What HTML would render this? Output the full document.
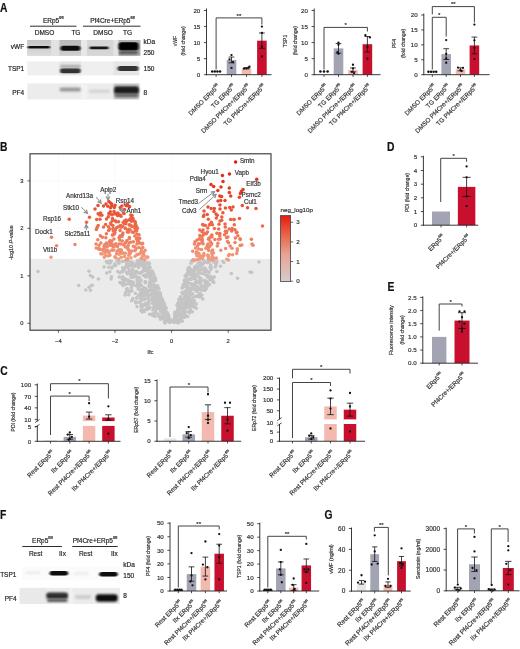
<!DOCTYPE html>
<html><head><meta charset="utf-8"><title>Figure</title>
<style>html,body{margin:0;padding:0;background:#fff;}svg{display:block;filter:blur(0.3px);}
text{font-family:"Liberation Sans", sans-serif;stroke:currentColor;stroke-width:0.18px;}</style></head>
<body><svg width="520" height="649" viewBox="0 0 520 649">
<rect width="520" height="649" fill="#fff"/>
<text transform="translate(-0.10 12.20) scale(0.86 1)" font-size="12" font-weight="bold" fill="#111" color="#111">A</text>
<text transform="translate(0.10 150.80) scale(0.86 1)" font-size="12" font-weight="bold" fill="#111" color="#111">B</text>
<text transform="translate(0.30 375.40) scale(0.86 1)" font-size="12" font-weight="bold" fill="#111" color="#111">C</text>
<text transform="translate(387.00 151.00) scale(0.86 1)" font-size="12" font-weight="bold" fill="#111" color="#111">D</text>
<text transform="translate(387.40 291.20) scale(0.86 1)" font-size="12" font-weight="bold" fill="#111" color="#111">E</text>
<text transform="translate(0.10 519.20) scale(0.86 1)" font-size="12" font-weight="bold" fill="#111" color="#111">F</text>
<text transform="translate(324.50 519.10) scale(0.86 1)" font-size="12" font-weight="bold" fill="#111" color="#111">G</text>
<defs><filter id="bl0" x="-20%" y="-50%" width="140%" height="200%"><feGaussianBlur stdDeviation="0.5"/></filter><filter id="bl1" x="-30%" y="-100%" width="160%" height="300%"><feGaussianBlur stdDeviation="0.8 0.6"/></filter><filter id="bl2" x="-30%" y="-100%" width="160%" height="300%"><feGaussianBlur stdDeviation="1.2 1.0"/></filter><linearGradient id="gv1" x1="0" y1="0" x2="0" y2="1"><stop offset="0" stop-color="#c4c4c4"/><stop offset="1" stop-color="#dcdcdc"/></linearGradient><linearGradient id="gv2" x1="0" y1="0" x2="0" y2="1"><stop offset="0" stop-color="#b8b8b8"/><stop offset="1" stop-color="#cfcfcf"/></linearGradient><linearGradient id="gv4" x1="0" y1="0" x2="0" y2="1"><stop offset="0" stop-color="#b0b0b0"/><stop offset="1" stop-color="#a8a8a8"/></linearGradient></defs>
<text x="53.20" y="22.60" font-size="6.5" text-anchor="middle" fill="#222" color="#222">ERp5<tspan font-size="3.4" dy="-3.2">fl/fl</tspan></text>
<line x1="30.00" y1="26.20" x2="76.50" y2="26.20" stroke="#222" stroke-width="0.95"/>
<text x="112.50" y="22.60" font-size="6.5" text-anchor="middle" fill="#222" color="#222">Pf4Cre+ERp5<tspan font-size="3.4" dy="-3.2">fl/fl</tspan></text>
<line x1="83.00" y1="26.20" x2="140.50" y2="26.20" stroke="#222" stroke-width="0.95"/>
<text x="44.50" y="35.40" font-size="6.5" text-anchor="middle" fill="#222" color="#222">DMSO</text>
<text x="75.90" y="35.40" font-size="6.5" text-anchor="middle" fill="#222" color="#222">TG</text>
<text x="103.10" y="35.40" font-size="6.5" text-anchor="middle" fill="#222" color="#222">DMSO</text>
<text x="127.50" y="35.40" font-size="6.5" text-anchor="middle" fill="#222" color="#222">TG</text>
<text x="24.20" y="49.25" font-size="6.5" text-anchor="end" fill="#222" color="#222">vWF</text>
<text x="24.20" y="71.35" font-size="6.5" text-anchor="end" fill="#222" color="#222">TSP1</text>
<text x="24.20" y="94.65" font-size="6.5" text-anchor="end" fill="#222" color="#222">PF4</text>
<text x="143.60" y="44.35" font-size="6.5" fill="#222" color="#222">kDa</text>
<text x="143.60" y="55.05" font-size="6.5" fill="#222" color="#222">250</text>
<text x="143.60" y="71.45" font-size="6.5" fill="#222" color="#222">150</text>
<text x="143.60" y="94.95" font-size="6.5" fill="#222" color="#222">8</text>
<rect x="27.30" y="40.00" width="113.00" height="15.70" fill="#d2d2d2"/>
<rect x="27.30" y="40.00" width="23.80" height="15.70" fill="url(#gv1)"/>
<rect x="51.10" y="40.00" width="8.50" height="15.70" fill="#e2e2e2"/>
<rect x="59.60" y="40.00" width="21.40" height="15.70" fill="url(#gv2)"/>
<rect x="81.00" y="40.00" width="6.30" height="15.70" fill="#e8e8e8"/>
<rect x="87.30" y="40.00" width="26.00" height="15.70" fill="#d6d6d6"/>
<rect x="113.30" y="40.00" width="5.20" height="15.70" fill="#e4e4e4"/>
<rect x="118.50" y="40.00" width="21.80" height="15.70" fill="url(#gv4)"/>
<rect x="27.80" y="45.90" width="22.20" height="2.60" rx="1.30" fill="#111" opacity="1" filter="url(#bl1)"/>
<rect x="60.50" y="45.80" width="19.90" height="5.00" rx="2.50" fill="#0a0a0a" opacity="1" filter="url(#bl1)"/>
<rect x="89.60" y="46.60" width="19.00" height="2.60" rx="1.30" fill="#151515" opacity="1" filter="url(#bl1)"/>
<rect x="118.50" y="42.30" width="20.00" height="8.20" rx="3.00" fill="#050505" opacity="1" filter="url(#bl1)"/>
<rect x="119.00" y="50.75" width="19.00" height="3.50" rx="1.75" fill="#555" opacity="1" filter="url(#bl2)"/>
<rect x="27.30" y="61.50" width="112.00" height="13.80" fill="#efefef"/>
<rect x="59.60" y="61.50" width="21.40" height="13.80" fill="#e4e4e4"/>
<rect x="113.50" y="61.50" width="25.80" height="13.80" fill="#e6e6e6"/>
<rect x="60.00" y="68.30" width="20.60" height="5.00" rx="2.50" fill="#333" opacity="1" filter="url(#bl1)"/>
<rect x="60.00" y="65.00" width="20.60" height="3.00" rx="1.50" fill="#aaa" opacity="1" filter="url(#bl2)"/>
<rect x="117.50" y="66.10" width="21.00" height="5.00" rx="2.50" fill="#333" opacity="1" filter="url(#bl1)"/>
<rect x="27.30" y="83.40" width="112.00" height="16.00" fill="#ececec"/>
<rect x="81.00" y="83.40" width="6.30" height="16.00" fill="#f2f2f2"/>
<rect x="113.50" y="83.40" width="25.80" height="16.00" fill="#d0d0d0"/>
<rect x="59.50" y="87.40" width="21.50" height="4.00" rx="2.00" fill="#999" opacity="1" filter="url(#bl2)"/>
<rect x="89.00" y="89.70" width="21.00" height="3.00" rx="1.50" fill="#d2d2d2" opacity="1" filter="url(#bl2)"/>
<rect x="114.00" y="86.30" width="25.00" height="8.00" rx="3.00" fill="#1e1e1e" opacity="1" filter="url(#bl2)"/>
<rect x="114.50" y="93.50" width="24.00" height="4.00" rx="2.00" fill="#666" opacity="1" filter="url(#bl2)"/>
<rect x="211.30" y="71.49" width="9.60" height="3.21" fill="none"/>
<rect x="226.70" y="59.93" width="9.60" height="14.77" fill="#a3a4b3"/>
<rect x="241.70" y="68.28" width="9.60" height="6.42" fill="#f3b8ae"/>
<rect x="257.10" y="40.67" width="9.60" height="34.03" fill="#c8102e"/>
<circle cx="212.20" cy="71.49" r="1.25" fill="#111"/>
<circle cx="214.80" cy="71.49" r="1.25" fill="#111"/>
<circle cx="217.40" cy="71.49" r="1.25" fill="#111"/>
<circle cx="220.00" cy="71.49" r="1.25" fill="#111"/>
<line x1="231.50" y1="57.05" x2="231.50" y2="62.82" stroke="#111" stroke-width="0.8"/>
<line x1="228.62" y1="57.05" x2="234.38" y2="57.05" stroke="#111" stroke-width="0.8"/>
<line x1="228.62" y1="62.82" x2="234.38" y2="62.82" stroke="#111" stroke-width="0.8"/>
<circle cx="231.50" cy="55.12" r="1.15" fill="#111"/>
<circle cx="229.50" cy="59.29" r="1.15" fill="#111"/>
<circle cx="233.00" cy="62.18" r="1.15" fill="#111"/>
<circle cx="231.50" cy="67.96" r="1.15" fill="#111"/>
<line x1="246.50" y1="67.64" x2="246.50" y2="68.92" stroke="#111" stroke-width="0.8"/>
<line x1="243.62" y1="67.64" x2="249.38" y2="67.64" stroke="#111" stroke-width="0.8"/>
<line x1="243.62" y1="68.92" x2="249.38" y2="68.92" stroke="#111" stroke-width="0.8"/>
<circle cx="244.00" cy="68.60" r="1.15" fill="#111"/>
<circle cx="246.50" cy="68.28" r="1.15" fill="#111"/>
<circle cx="248.50" cy="67.64" r="1.15" fill="#111"/>
<circle cx="249.50" cy="66.67" r="1.15" fill="#111"/>
<line x1="261.90" y1="32.97" x2="261.90" y2="48.38" stroke="#111" stroke-width="0.8"/>
<line x1="259.02" y1="32.97" x2="264.78" y2="32.97" stroke="#111" stroke-width="0.8"/>
<line x1="259.02" y1="48.38" x2="264.78" y2="48.38" stroke="#111" stroke-width="0.8"/>
<circle cx="261.90" cy="26.55" r="1.15" fill="#111"/>
<circle cx="261.90" cy="32.97" r="1.15" fill="#111"/>
<circle cx="261.90" cy="46.77" r="1.15" fill="#111"/>
<circle cx="261.90" cy="56.40" r="1.15" fill="#111"/>
<line x1="206.50" y1="8.50" x2="206.50" y2="75.15" stroke="#222" stroke-width="0.9"/>
<line x1="206.05" y1="74.70" x2="271.50" y2="74.70" stroke="#222" stroke-width="0.9"/>
<line x1="203.90" y1="74.70" x2="206.50" y2="74.70" stroke="#222" stroke-width="0.8"/>
<text x="200.30" y="76.93" font-size="6.2" text-anchor="end" fill="#333" color="#333">0</text>
<line x1="203.90" y1="58.65" x2="206.50" y2="58.65" stroke="#222" stroke-width="0.8"/>
<text x="200.30" y="60.88" font-size="6.2" text-anchor="end" fill="#333" color="#333">5</text>
<line x1="203.90" y1="42.60" x2="206.50" y2="42.60" stroke="#222" stroke-width="0.8"/>
<text x="200.30" y="44.83" font-size="6.2" text-anchor="end" fill="#333" color="#333">10</text>
<line x1="203.90" y1="26.55" x2="206.50" y2="26.55" stroke="#222" stroke-width="0.8"/>
<text x="200.30" y="28.78" font-size="6.2" text-anchor="end" fill="#333" color="#333">15</text>
<line x1="203.90" y1="10.50" x2="206.50" y2="10.50" stroke="#222" stroke-width="0.8"/>
<text x="200.30" y="12.73" font-size="6.2" text-anchor="end" fill="#333" color="#333">20</text>
<line x1="216.10" y1="74.70" x2="216.10" y2="76.90" stroke="#222" stroke-width="0.8"/>
<line x1="231.50" y1="74.70" x2="231.50" y2="76.90" stroke="#222" stroke-width="0.8"/>
<line x1="246.50" y1="74.70" x2="246.50" y2="76.90" stroke="#222" stroke-width="0.8"/>
<line x1="261.90" y1="74.70" x2="261.90" y2="76.90" stroke="#222" stroke-width="0.8"/>
<text x="177.00" y="41.00" font-size="5.0" text-anchor="middle" fill="#333" color="#333" transform="rotate(-90 177.00 41.00)">vWF</text>
<text x="185.40" y="41.00" font-size="5.0" text-anchor="middle" fill="#333" color="#333" transform="rotate(-90 185.40 41.00)">(fold change)</text>
<text x="220.10" y="86.70" font-size="6.35" text-anchor="end" fill="#333" color="#333" transform="rotate(-45 220.10 86.70)">DMSO ERp5<tspan font-size="3.4" dy="-3.2">fl/fl</tspan></text>
<text x="235.50" y="86.70" font-size="6.35" text-anchor="end" fill="#333" color="#333" transform="rotate(-45 235.50 86.70)">TG ERp5<tspan font-size="3.4" dy="-3.2">fl/fl</tspan></text>
<text x="250.50" y="86.70" font-size="6.35" text-anchor="end" fill="#333" color="#333" transform="rotate(-45 250.50 86.70)">DMSO Pf4Cre+/ERp5<tspan font-size="3.4" dy="-3.2">fl/fl</tspan></text>
<text x="265.90" y="86.70" font-size="6.35" text-anchor="end" fill="#333" color="#333" transform="rotate(-45 265.90 86.70)">TG Pf4Cre+/ERp5<tspan font-size="3.4" dy="-3.2">fl/fl</tspan></text>
<polyline points="216.10,69.50 216.10,17.90 261.90,17.90 261.90,24.50" fill="none" stroke="#3a3a3a" stroke-width="0.95"/>
<text x="239.00" y="17.60" font-size="6.2" text-anchor="middle" fill="#333" color="#333">**</text>
<rect x="319.20" y="71.49" width="9.60" height="3.21" fill="none"/>
<rect x="333.70" y="48.38" width="9.60" height="26.32" fill="#a3a4b3"/>
<rect x="348.20" y="69.89" width="9.60" height="4.81" fill="#f3b8ae"/>
<rect x="362.60" y="44.21" width="9.60" height="30.49" fill="#c8102e"/>
<circle cx="320.40" cy="71.49" r="1.3" fill="#111"/>
<circle cx="324.00" cy="71.49" r="1.3" fill="#111"/>
<circle cx="327.60" cy="71.49" r="1.3" fill="#111"/>
<line x1="338.50" y1="43.56" x2="338.50" y2="53.19" stroke="#111" stroke-width="0.8"/>
<line x1="335.62" y1="43.56" x2="341.38" y2="43.56" stroke="#111" stroke-width="0.8"/>
<line x1="335.62" y1="53.19" x2="341.38" y2="53.19" stroke="#111" stroke-width="0.8"/>
<circle cx="338.50" cy="42.60" r="1.15" fill="#111"/>
<circle cx="338.50" cy="44.85" r="1.15" fill="#111"/>
<circle cx="337.50" cy="52.23" r="1.15" fill="#111"/>
<circle cx="338.50" cy="53.84" r="1.15" fill="#111"/>
<line x1="353.00" y1="67.96" x2="353.00" y2="71.81" stroke="#111" stroke-width="0.8"/>
<line x1="350.12" y1="67.96" x2="355.88" y2="67.96" stroke="#111" stroke-width="0.8"/>
<line x1="350.12" y1="71.81" x2="355.88" y2="71.81" stroke="#111" stroke-width="0.8"/>
<circle cx="353.00" cy="64.75" r="1.15" fill="#111"/>
<circle cx="353.00" cy="68.28" r="1.15" fill="#111"/>
<circle cx="352.00" cy="71.81" r="1.15" fill="#111"/>
<circle cx="354.00" cy="73.09" r="1.15" fill="#111"/>
<line x1="367.40" y1="36.50" x2="367.40" y2="51.91" stroke="#111" stroke-width="0.8"/>
<line x1="364.52" y1="36.50" x2="370.28" y2="36.50" stroke="#111" stroke-width="0.8"/>
<line x1="364.52" y1="51.91" x2="370.28" y2="51.91" stroke="#111" stroke-width="0.8"/>
<circle cx="365.40" cy="35.22" r="1.15" fill="#111"/>
<circle cx="369.90" cy="37.46" r="1.15" fill="#111"/>
<circle cx="367.40" cy="47.09" r="1.15" fill="#111"/>
<circle cx="367.40" cy="58.65" r="1.15" fill="#111"/>
<line x1="314.20" y1="8.50" x2="314.20" y2="75.15" stroke="#222" stroke-width="0.9"/>
<line x1="313.75" y1="74.70" x2="380.50" y2="74.70" stroke="#222" stroke-width="0.9"/>
<line x1="311.60" y1="74.70" x2="314.20" y2="74.70" stroke="#222" stroke-width="0.8"/>
<text x="308.00" y="76.93" font-size="6.2" text-anchor="end" fill="#333" color="#333">0</text>
<line x1="311.60" y1="58.65" x2="314.20" y2="58.65" stroke="#222" stroke-width="0.8"/>
<text x="308.00" y="60.88" font-size="6.2" text-anchor="end" fill="#333" color="#333">5</text>
<line x1="311.60" y1="42.60" x2="314.20" y2="42.60" stroke="#222" stroke-width="0.8"/>
<text x="308.00" y="44.83" font-size="6.2" text-anchor="end" fill="#333" color="#333">10</text>
<line x1="311.60" y1="26.55" x2="314.20" y2="26.55" stroke="#222" stroke-width="0.8"/>
<text x="308.00" y="28.78" font-size="6.2" text-anchor="end" fill="#333" color="#333">15</text>
<line x1="311.60" y1="10.50" x2="314.20" y2="10.50" stroke="#222" stroke-width="0.8"/>
<text x="308.00" y="12.73" font-size="6.2" text-anchor="end" fill="#333" color="#333">20</text>
<line x1="324.00" y1="74.70" x2="324.00" y2="76.90" stroke="#222" stroke-width="0.8"/>
<line x1="338.50" y1="74.70" x2="338.50" y2="76.90" stroke="#222" stroke-width="0.8"/>
<line x1="353.00" y1="74.70" x2="353.00" y2="76.90" stroke="#222" stroke-width="0.8"/>
<line x1="367.40" y1="74.70" x2="367.40" y2="76.90" stroke="#222" stroke-width="0.8"/>
<text x="287.10" y="41.00" font-size="5.0" text-anchor="middle" fill="#333" color="#333" transform="rotate(-90 287.10 41.00)">TSP1</text>
<text x="296.60" y="40.70" font-size="5.0" text-anchor="middle" fill="#333" color="#333" transform="rotate(-90 296.60 40.70)">(fold change)</text>
<text x="328.00" y="86.70" font-size="6.35" text-anchor="end" fill="#333" color="#333" transform="rotate(-45 328.00 86.70)">DMSO ERp5<tspan font-size="3.4" dy="-3.2">fl/fl</tspan></text>
<text x="342.50" y="86.70" font-size="6.35" text-anchor="end" fill="#333" color="#333" transform="rotate(-45 342.50 86.70)">TG ERp5<tspan font-size="3.4" dy="-3.2">fl/fl</tspan></text>
<text x="357.00" y="86.70" font-size="6.35" text-anchor="end" fill="#333" color="#333" transform="rotate(-45 357.00 86.70)">DMSO Pf4Cre+/ERp5<tspan font-size="3.4" dy="-3.2">fl/fl</tspan></text>
<text x="371.40" y="86.70" font-size="6.35" text-anchor="end" fill="#333" color="#333" transform="rotate(-45 371.40 86.70)">TG Pf4Cre+/ERp5<tspan font-size="3.4" dy="-3.2">fl/fl</tspan></text>
<polyline points="324.00,69.50 324.00,27.40 367.40,27.40 367.40,31.50" fill="none" stroke="#3a3a3a" stroke-width="0.95"/>
<text x="345.70" y="27.10" font-size="6.2" text-anchor="middle" fill="#333" color="#333">*</text>
<rect x="427.50" y="71.72" width="9.60" height="2.98" fill="none"/>
<rect x="441.40" y="54.10" width="9.60" height="20.60" fill="#a3a4b3"/>
<rect x="455.70" y="69.33" width="9.60" height="5.37" fill="#f3b8ae"/>
<rect x="469.60" y="45.45" width="9.60" height="29.25" fill="#c8102e"/>
<circle cx="428.40" cy="71.72" r="1.25" fill="#111"/>
<circle cx="431.00" cy="71.72" r="1.25" fill="#111"/>
<circle cx="433.60" cy="71.72" r="1.25" fill="#111"/>
<circle cx="436.20" cy="71.72" r="1.25" fill="#111"/>
<line x1="446.20" y1="48.73" x2="446.20" y2="59.48" stroke="#111" stroke-width="0.8"/>
<line x1="443.32" y1="48.73" x2="449.08" y2="48.73" stroke="#111" stroke-width="0.8"/>
<line x1="443.32" y1="59.48" x2="449.08" y2="59.48" stroke="#111" stroke-width="0.8"/>
<circle cx="446.20" cy="40.07" r="1.15" fill="#111"/>
<circle cx="446.20" cy="53.80" r="1.15" fill="#111"/>
<circle cx="446.20" cy="58.28" r="1.15" fill="#111"/>
<circle cx="446.20" cy="62.76" r="1.15" fill="#111"/>
<line x1="460.50" y1="67.83" x2="460.50" y2="70.82" stroke="#111" stroke-width="0.8"/>
<line x1="457.62" y1="67.83" x2="463.38" y2="67.83" stroke="#111" stroke-width="0.8"/>
<line x1="457.62" y1="70.82" x2="463.38" y2="70.82" stroke="#111" stroke-width="0.8"/>
<circle cx="458.00" cy="67.54" r="1.15" fill="#111"/>
<circle cx="463.00" cy="67.83" r="1.15" fill="#111"/>
<circle cx="460.50" cy="70.22" r="1.15" fill="#111"/>
<circle cx="461.50" cy="71.12" r="1.15" fill="#111"/>
<line x1="474.40" y1="37.09" x2="474.40" y2="53.80" stroke="#111" stroke-width="0.8"/>
<line x1="471.52" y1="37.09" x2="477.28" y2="37.09" stroke="#111" stroke-width="0.8"/>
<line x1="471.52" y1="53.80" x2="477.28" y2="53.80" stroke="#111" stroke-width="0.8"/>
<circle cx="474.40" cy="24.55" r="1.15" fill="#111"/>
<circle cx="474.40" cy="40.37" r="1.15" fill="#111"/>
<circle cx="474.40" cy="47.84" r="1.15" fill="#111"/>
<circle cx="474.40" cy="59.18" r="1.15" fill="#111"/>
<line x1="423.80" y1="13.50" x2="423.80" y2="75.15" stroke="#222" stroke-width="0.9"/>
<line x1="423.35" y1="74.70" x2="489.60" y2="74.70" stroke="#222" stroke-width="0.9"/>
<line x1="421.20" y1="74.70" x2="423.80" y2="74.70" stroke="#222" stroke-width="0.8"/>
<text x="417.60" y="76.93" font-size="6.2" text-anchor="end" fill="#333" color="#333">0</text>
<line x1="421.20" y1="59.78" x2="423.80" y2="59.78" stroke="#222" stroke-width="0.8"/>
<text x="417.60" y="62.01" font-size="6.2" text-anchor="end" fill="#333" color="#333">5</text>
<line x1="421.20" y1="44.85" x2="423.80" y2="44.85" stroke="#222" stroke-width="0.8"/>
<text x="417.60" y="47.08" font-size="6.2" text-anchor="end" fill="#333" color="#333">10</text>
<line x1="421.20" y1="29.93" x2="423.80" y2="29.93" stroke="#222" stroke-width="0.8"/>
<text x="417.60" y="32.16" font-size="6.2" text-anchor="end" fill="#333" color="#333">15</text>
<line x1="421.20" y1="15.00" x2="423.80" y2="15.00" stroke="#222" stroke-width="0.8"/>
<text x="417.60" y="17.23" font-size="6.2" text-anchor="end" fill="#333" color="#333">20</text>
<line x1="432.30" y1="74.70" x2="432.30" y2="76.90" stroke="#222" stroke-width="0.8"/>
<line x1="446.20" y1="74.70" x2="446.20" y2="76.90" stroke="#222" stroke-width="0.8"/>
<line x1="460.50" y1="74.70" x2="460.50" y2="76.90" stroke="#222" stroke-width="0.8"/>
<line x1="474.40" y1="74.70" x2="474.40" y2="76.90" stroke="#222" stroke-width="0.8"/>
<text x="395.60" y="43.50" font-size="5.0" text-anchor="middle" fill="#333" color="#333" transform="rotate(-90 395.60 43.50)">PF4</text>
<text x="404.80" y="43.50" font-size="5.0" text-anchor="middle" fill="#333" color="#333" transform="rotate(-90 404.80 43.50)">(fold change)</text>
<text x="436.30" y="86.70" font-size="6.35" text-anchor="end" fill="#333" color="#333" transform="rotate(-45 436.30 86.70)">DMSO ERp5<tspan font-size="3.4" dy="-3.2">fl/fl</tspan></text>
<text x="450.20" y="86.70" font-size="6.35" text-anchor="end" fill="#333" color="#333" transform="rotate(-45 450.20 86.70)">TG ERp5<tspan font-size="3.4" dy="-3.2">fl/fl</tspan></text>
<text x="464.50" y="86.70" font-size="6.35" text-anchor="end" fill="#333" color="#333" transform="rotate(-45 464.50 86.70)">DMSO Pf4Cre+/ERp5<tspan font-size="3.4" dy="-3.2">fl/fl</tspan></text>
<text x="478.40" y="86.70" font-size="6.35" text-anchor="end" fill="#333" color="#333" transform="rotate(-45 478.40 86.70)">TG Pf4Cre+/ERp5<tspan font-size="3.4" dy="-3.2">fl/fl</tspan></text>
<polyline points="432.30,69.50 432.30,17.30 446.20,17.30 446.20,36.50" fill="none" stroke="#3a3a3a" stroke-width="0.95"/>
<text x="439.25" y="17.00" font-size="6.2" text-anchor="middle" fill="#333" color="#333">*</text>
<polyline points="432.30,14.50 432.30,6.60 474.40,6.60 474.40,22.50" fill="none" stroke="#3a3a3a" stroke-width="0.95"/>
<text x="453.35" y="6.30" font-size="6.2" text-anchor="middle" fill="#333" color="#333">**</text>
<rect x="30" y="153.8" width="241" height="176.39999999999998" fill="#fff"/>
<line x1="58.40" y1="153.80" x2="58.40" y2="330.20" stroke="#f6f6f6" stroke-width="0.6"/>
<line x1="115.00" y1="153.80" x2="115.00" y2="330.20" stroke="#f6f6f6" stroke-width="0.6"/>
<line x1="171.60" y1="153.80" x2="171.60" y2="330.20" stroke="#f6f6f6" stroke-width="0.6"/>
<line x1="228.20" y1="153.80" x2="228.20" y2="330.20" stroke="#f6f6f6" stroke-width="0.6"/>
<line x1="30.00" y1="323.30" x2="271.00" y2="323.30" stroke="#f6f6f6" stroke-width="0.6"/>
<line x1="30.00" y1="275.83" x2="271.00" y2="275.83" stroke="#f6f6f6" stroke-width="0.6"/>
<line x1="30.00" y1="228.37" x2="271.00" y2="228.37" stroke="#f6f6f6" stroke-width="0.6"/>
<line x1="30.00" y1="180.90" x2="271.00" y2="180.90" stroke="#f6f6f6" stroke-width="0.6"/>
<rect x="30.00" y="259.00" width="241.00" height="71.20" fill="#ebebeb"/>
<g fill="#c4c4c4">
<circle cx="148.9" cy="285.9" r="1.75"/>
<circle cx="139.0" cy="263.0" r="1.75"/>
<circle cx="137.0" cy="298.3" r="1.75"/>
<circle cx="182.0" cy="302.1" r="1.75"/>
<circle cx="138.7" cy="286.7" r="1.75"/>
<circle cx="139.9" cy="263.4" r="1.75"/>
<circle cx="205.9" cy="281.1" r="1.75"/>
<circle cx="211.8" cy="278.0" r="1.75"/>
<circle cx="185.5" cy="284.2" r="1.75"/>
<circle cx="186.8" cy="294.6" r="1.75"/>
<circle cx="132.0" cy="262.6" r="1.75"/>
<circle cx="153.6" cy="299.1" r="1.75"/>
<circle cx="136.7" cy="276.8" r="1.75"/>
<circle cx="185.4" cy="316.8" r="1.75"/>
<circle cx="122.1" cy="261.2" r="1.75"/>
<circle cx="154.0" cy="307.4" r="1.75"/>
<circle cx="210.6" cy="265.1" r="1.75"/>
<circle cx="184.9" cy="315.3" r="1.75"/>
<circle cx="157.3" cy="296.8" r="1.75"/>
<circle cx="197.3" cy="282.3" r="1.75"/>
<circle cx="195.8" cy="274.5" r="1.75"/>
<circle cx="138.2" cy="289.0" r="1.75"/>
<circle cx="192.4" cy="311.8" r="1.75"/>
<circle cx="154.6" cy="300.2" r="1.75"/>
<circle cx="154.3" cy="314.3" r="1.75"/>
<circle cx="189.1" cy="267.2" r="1.75"/>
<circle cx="147.4" cy="292.5" r="1.75"/>
<circle cx="148.7" cy="290.4" r="1.75"/>
<circle cx="152.7" cy="272.7" r="1.75"/>
<circle cx="163.8" cy="317.0" r="1.75"/>
<circle cx="203.4" cy="263.2" r="1.75"/>
<circle cx="201.8" cy="295.3" r="1.75"/>
<circle cx="186.3" cy="281.2" r="1.75"/>
<circle cx="154.0" cy="278.6" r="1.75"/>
<circle cx="122.7" cy="267.8" r="1.75"/>
<circle cx="189.7" cy="297.1" r="1.75"/>
<circle cx="78.7" cy="285.6" r="1.75"/>
<circle cx="159.6" cy="302.0" r="1.75"/>
<circle cx="158.9" cy="316.5" r="1.75"/>
<circle cx="186.5" cy="277.0" r="1.75"/>
<circle cx="146.1" cy="309.3" r="1.75"/>
<circle cx="194.9" cy="269.7" r="1.75"/>
<circle cx="180.4" cy="320.8" r="1.75"/>
<circle cx="191.1" cy="303.9" r="1.75"/>
<circle cx="158.9" cy="302.0" r="1.75"/>
<circle cx="188.3" cy="271.0" r="1.75"/>
<circle cx="185.6" cy="303.6" r="1.75"/>
<circle cx="190.2" cy="288.5" r="1.75"/>
<circle cx="131.0" cy="262.6" r="1.75"/>
<circle cx="156.0" cy="307.3" r="1.75"/>
<circle cx="152.9" cy="310.1" r="1.75"/>
<circle cx="148.0" cy="302.7" r="1.75"/>
<circle cx="190.1" cy="307.3" r="1.75"/>
<circle cx="152.6" cy="290.0" r="1.75"/>
<circle cx="128.6" cy="281.3" r="1.75"/>
<circle cx="118.3" cy="261.4" r="1.75"/>
<circle cx="191.8" cy="299.4" r="1.75"/>
<circle cx="197.0" cy="282.6" r="1.75"/>
<circle cx="179.9" cy="311.7" r="1.75"/>
<circle cx="150.2" cy="267.4" r="1.75"/>
<circle cx="183.5" cy="287.1" r="1.75"/>
<circle cx="164.7" cy="305.4" r="1.75"/>
<circle cx="164.9" cy="313.1" r="1.75"/>
<circle cx="178.7" cy="302.6" r="1.75"/>
<circle cx="130.9" cy="271.2" r="1.75"/>
<circle cx="156.5" cy="295.2" r="1.75"/>
<circle cx="180.9" cy="305.2" r="1.75"/>
<circle cx="195.8" cy="281.8" r="1.75"/>
<circle cx="119.9" cy="282.6" r="1.75"/>
<circle cx="187.3" cy="300.0" r="1.75"/>
<circle cx="122.5" cy="261.5" r="1.75"/>
<circle cx="199.5" cy="280.8" r="1.75"/>
<circle cx="158.6" cy="304.3" r="1.75"/>
<circle cx="120.0" cy="272.7" r="1.75"/>
<circle cx="125.4" cy="280.6" r="1.75"/>
<circle cx="200.2" cy="265.3" r="1.75"/>
<circle cx="139.1" cy="264.8" r="1.75"/>
<circle cx="192.2" cy="288.6" r="1.75"/>
<circle cx="191.3" cy="304.9" r="1.75"/>
<circle cx="127.0" cy="265.2" r="1.75"/>
<circle cx="137.7" cy="284.2" r="1.75"/>
<circle cx="179.2" cy="304.0" r="1.75"/>
<circle cx="92.7" cy="276.9" r="1.75"/>
<circle cx="183.3" cy="286.3" r="1.75"/>
<circle cx="141.9" cy="293.6" r="1.75"/>
<circle cx="194.7" cy="260.4" r="1.75"/>
<circle cx="194.2" cy="271.3" r="1.75"/>
<circle cx="140.9" cy="289.9" r="1.75"/>
<circle cx="111.4" cy="276.8" r="1.75"/>
<circle cx="186.7" cy="289.9" r="1.75"/>
<circle cx="123.2" cy="284.4" r="1.75"/>
<circle cx="184.3" cy="303.0" r="1.75"/>
<circle cx="153.8" cy="274.4" r="1.75"/>
<circle cx="143.1" cy="266.4" r="1.75"/>
<circle cx="216.8" cy="261.0" r="1.75"/>
<circle cx="202.4" cy="268.9" r="1.75"/>
<circle cx="194.9" cy="284.0" r="1.75"/>
<circle cx="154.0" cy="306.9" r="1.75"/>
<circle cx="215.3" cy="267.0" r="1.75"/>
<circle cx="136.7" cy="271.5" r="1.75"/>
<circle cx="149.2" cy="300.4" r="1.75"/>
<circle cx="163.8" cy="306.6" r="1.75"/>
<circle cx="162.1" cy="306.4" r="1.75"/>
<circle cx="145.2" cy="264.3" r="1.75"/>
<circle cx="186.4" cy="284.3" r="1.75"/>
<circle cx="178.4" cy="315.8" r="1.75"/>
<circle cx="191.6" cy="284.1" r="1.75"/>
<circle cx="184.8" cy="310.8" r="1.75"/>
<circle cx="200.1" cy="293.6" r="1.75"/>
<circle cx="104.1" cy="267.1" r="1.75"/>
<circle cx="191.5" cy="284.3" r="1.75"/>
<circle cx="150.5" cy="278.4" r="1.75"/>
<circle cx="191.2" cy="289.2" r="1.75"/>
<circle cx="200.3" cy="262.4" r="1.75"/>
<circle cx="153.4" cy="309.6" r="1.75"/>
<circle cx="164.5" cy="314.3" r="1.75"/>
<circle cx="160.4" cy="308.6" r="1.75"/>
<circle cx="92.1" cy="285.2" r="1.75"/>
<circle cx="135.3" cy="293.2" r="1.75"/>
<circle cx="157.9" cy="303.1" r="1.75"/>
<circle cx="139.4" cy="285.0" r="1.75"/>
<circle cx="231.4" cy="273.5" r="1.75"/>
<circle cx="151.9" cy="294.7" r="1.75"/>
<circle cx="147.5" cy="303.9" r="1.75"/>
<circle cx="185.8" cy="302.0" r="1.75"/>
<circle cx="143.4" cy="288.8" r="1.75"/>
<circle cx="202.0" cy="287.1" r="1.75"/>
<circle cx="177.6" cy="310.8" r="1.75"/>
<circle cx="125.3" cy="278.9" r="1.75"/>
<circle cx="149.5" cy="281.9" r="1.75"/>
<circle cx="191.2" cy="269.6" r="1.75"/>
<circle cx="178.4" cy="308.4" r="1.75"/>
<circle cx="193.2" cy="306.4" r="1.75"/>
<circle cx="164.9" cy="321.1" r="1.75"/>
<circle cx="165.1" cy="322.9" r="1.75"/>
<circle cx="196.1" cy="266.1" r="1.75"/>
<circle cx="137.7" cy="263.6" r="1.75"/>
<circle cx="157.7" cy="313.9" r="1.75"/>
<circle cx="138.8" cy="294.7" r="1.75"/>
<circle cx="169.8" cy="322.4" r="1.75"/>
<circle cx="195.4" cy="287.6" r="1.75"/>
<circle cx="190.0" cy="306.2" r="1.75"/>
<circle cx="132.9" cy="298.6" r="1.75"/>
<circle cx="210.5" cy="277.4" r="1.75"/>
<circle cx="179.0" cy="299.2" r="1.75"/>
<circle cx="177.1" cy="311.9" r="1.75"/>
<circle cx="128.7" cy="294.8" r="1.75"/>
<circle cx="135.0" cy="266.2" r="1.75"/>
<circle cx="185.4" cy="280.3" r="1.75"/>
<circle cx="111.2" cy="261.1" r="1.75"/>
<circle cx="107.2" cy="262.7" r="1.75"/>
<circle cx="176.8" cy="319.9" r="1.75"/>
<circle cx="187.8" cy="288.6" r="1.75"/>
<circle cx="175.1" cy="313.5" r="1.75"/>
<circle cx="89.1" cy="287.3" r="1.75"/>
<circle cx="180.7" cy="308.0" r="1.75"/>
<circle cx="156.4" cy="298.4" r="1.75"/>
<circle cx="177.7" cy="304.0" r="1.75"/>
<circle cx="149.0" cy="308.2" r="1.75"/>
<circle cx="184.2" cy="310.0" r="1.75"/>
<circle cx="147.1" cy="306.2" r="1.75"/>
<circle cx="185.1" cy="312.2" r="1.75"/>
<circle cx="140.4" cy="284.8" r="1.75"/>
<circle cx="163.9" cy="303.0" r="1.75"/>
<circle cx="144.1" cy="263.7" r="1.75"/>
<circle cx="204.7" cy="286.7" r="1.75"/>
<circle cx="155.6" cy="288.5" r="1.75"/>
<circle cx="176.3" cy="318.3" r="1.75"/>
<circle cx="189.7" cy="312.7" r="1.75"/>
<circle cx="190.9" cy="301.4" r="1.75"/>
<circle cx="156.5" cy="309.2" r="1.75"/>
<circle cx="137.0" cy="306.8" r="1.75"/>
<circle cx="204.5" cy="290.3" r="1.75"/>
<circle cx="148.0" cy="291.5" r="1.75"/>
<circle cx="148.8" cy="303.9" r="1.75"/>
<circle cx="153.7" cy="286.1" r="1.75"/>
<circle cx="91.5" cy="285.4" r="1.75"/>
<circle cx="122.1" cy="271.2" r="1.75"/>
<circle cx="183.2" cy="313.0" r="1.75"/>
<circle cx="150.9" cy="278.4" r="1.75"/>
<circle cx="205.2" cy="287.9" r="1.75"/>
<circle cx="189.8" cy="279.1" r="1.75"/>
<circle cx="127.9" cy="279.9" r="1.75"/>
<circle cx="168.5" cy="315.6" r="1.75"/>
<circle cx="117.0" cy="261.1" r="1.75"/>
<circle cx="114.9" cy="264.1" r="1.75"/>
<circle cx="195.5" cy="279.2" r="1.75"/>
<circle cx="176.8" cy="316.7" r="1.75"/>
<circle cx="183.1" cy="284.8" r="1.75"/>
<circle cx="183.8" cy="317.6" r="1.75"/>
<circle cx="140.4" cy="263.6" r="1.75"/>
<circle cx="145.4" cy="276.4" r="1.75"/>
<circle cx="148.0" cy="271.6" r="1.75"/>
<circle cx="151.3" cy="287.6" r="1.75"/>
<circle cx="147.5" cy="262.8" r="1.75"/>
<circle cx="159.1" cy="292.7" r="1.75"/>
<circle cx="142.1" cy="265.8" r="1.75"/>
<circle cx="160.7" cy="302.0" r="1.75"/>
<circle cx="115.5" cy="265.5" r="1.75"/>
<circle cx="138.6" cy="267.5" r="1.75"/>
<circle cx="156.4" cy="301.8" r="1.75"/>
<circle cx="201.9" cy="273.6" r="1.75"/>
<circle cx="167.0" cy="312.5" r="1.75"/>
<circle cx="145.3" cy="282.8" r="1.75"/>
<circle cx="193.2" cy="261.1" r="1.75"/>
<circle cx="192.8" cy="302.5" r="1.75"/>
<circle cx="189.9" cy="299.8" r="1.75"/>
<circle cx="170.4" cy="321.6" r="1.75"/>
<circle cx="159.1" cy="293.0" r="1.75"/>
<circle cx="129.2" cy="261.2" r="1.75"/>
<circle cx="166.2" cy="313.9" r="1.75"/>
<circle cx="184.6" cy="307.7" r="1.75"/>
<circle cx="187.7" cy="282.6" r="1.75"/>
<circle cx="180.5" cy="296.8" r="1.75"/>
<circle cx="130.1" cy="274.2" r="1.75"/>
<circle cx="146.3" cy="291.2" r="1.75"/>
<circle cx="155.3" cy="286.2" r="1.75"/>
<circle cx="153.3" cy="281.6" r="1.75"/>
<circle cx="151.3" cy="288.4" r="1.75"/>
<circle cx="149.3" cy="283.7" r="1.75"/>
<circle cx="162.6" cy="307.1" r="1.75"/>
<circle cx="170.8" cy="321.8" r="1.75"/>
<circle cx="155.0" cy="305.8" r="1.75"/>
<circle cx="164.5" cy="320.8" r="1.75"/>
<circle cx="153.5" cy="295.2" r="1.75"/>
<circle cx="194.6" cy="274.1" r="1.75"/>
<circle cx="180.5" cy="303.8" r="1.75"/>
<circle cx="154.4" cy="290.5" r="1.75"/>
<circle cx="140.6" cy="291.1" r="1.75"/>
<circle cx="191.5" cy="261.3" r="1.75"/>
<circle cx="186.4" cy="305.6" r="1.75"/>
<circle cx="135.6" cy="265.0" r="1.75"/>
<circle cx="145.4" cy="291.6" r="1.75"/>
<circle cx="194.7" cy="266.9" r="1.75"/>
<circle cx="199.9" cy="280.7" r="1.75"/>
<circle cx="155.2" cy="304.3" r="1.75"/>
<circle cx="198.3" cy="290.0" r="1.75"/>
<circle cx="166.2" cy="320.1" r="1.75"/>
<circle cx="144.5" cy="270.8" r="1.75"/>
<circle cx="130.6" cy="284.6" r="1.75"/>
<circle cx="162.1" cy="301.3" r="1.75"/>
<circle cx="122.4" cy="271.8" r="1.75"/>
<circle cx="193.3" cy="278.3" r="1.75"/>
<circle cx="176.0" cy="313.0" r="1.75"/>
<circle cx="149.6" cy="314.3" r="1.75"/>
<circle cx="192.6" cy="284.5" r="1.75"/>
<circle cx="167.8" cy="314.0" r="1.75"/>
<circle cx="184.9" cy="296.0" r="1.75"/>
<circle cx="158.9" cy="289.1" r="1.75"/>
<circle cx="131.9" cy="275.1" r="1.75"/>
<circle cx="141.0" cy="298.2" r="1.75"/>
<circle cx="119.3" cy="277.1" r="1.75"/>
<circle cx="201.0" cy="278.7" r="1.75"/>
<circle cx="166.0" cy="319.4" r="1.75"/>
<circle cx="196.9" cy="289.1" r="1.75"/>
<circle cx="143.5" cy="275.4" r="1.75"/>
<circle cx="174.3" cy="322.4" r="1.75"/>
<circle cx="140.3" cy="283.8" r="1.75"/>
<circle cx="165.2" cy="313.8" r="1.75"/>
<circle cx="188.2" cy="306.4" r="1.75"/>
<circle cx="191.0" cy="311.1" r="1.75"/>
<circle cx="159.1" cy="302.7" r="1.75"/>
<circle cx="139.3" cy="277.5" r="1.75"/>
<circle cx="154.4" cy="295.5" r="1.75"/>
<circle cx="199.5" cy="293.7" r="1.75"/>
<circle cx="176.9" cy="315.4" r="1.75"/>
<circle cx="165.2" cy="310.6" r="1.75"/>
<circle cx="155.0" cy="277.8" r="1.75"/>
<circle cx="151.8" cy="280.1" r="1.75"/>
<circle cx="141.9" cy="295.5" r="1.75"/>
<circle cx="130.5" cy="281.2" r="1.75"/>
<circle cx="165.0" cy="310.7" r="1.75"/>
<circle cx="140.7" cy="300.9" r="1.75"/>
<circle cx="200.4" cy="288.6" r="1.75"/>
<circle cx="185.6" cy="298.5" r="1.75"/>
<circle cx="194.6" cy="306.8" r="1.75"/>
<circle cx="188.6" cy="311.7" r="1.75"/>
<circle cx="162.6" cy="318.2" r="1.75"/>
<circle cx="190.2" cy="289.7" r="1.75"/>
<circle cx="188.6" cy="298.7" r="1.75"/>
<circle cx="158.6" cy="308.3" r="1.75"/>
<circle cx="159.8" cy="304.8" r="1.75"/>
<circle cx="124.2" cy="269.8" r="1.75"/>
<circle cx="194.6" cy="268.6" r="1.75"/>
<circle cx="151.2" cy="290.6" r="1.75"/>
<circle cx="205.7" cy="269.7" r="1.75"/>
<circle cx="200.6" cy="266.7" r="1.75"/>
<circle cx="127.2" cy="264.7" r="1.75"/>
<circle cx="182.2" cy="292.2" r="1.75"/>
<circle cx="180.4" cy="320.1" r="1.75"/>
<circle cx="147.6" cy="267.6" r="1.75"/>
<circle cx="131.7" cy="281.7" r="1.75"/>
<circle cx="157.6" cy="285.8" r="1.75"/>
<circle cx="136.3" cy="263.1" r="1.75"/>
<circle cx="180.9" cy="306.4" r="1.75"/>
<circle cx="156.0" cy="292.1" r="1.75"/>
<circle cx="189.0" cy="292.2" r="1.75"/>
<circle cx="159.2" cy="296.6" r="1.75"/>
<circle cx="183.5" cy="305.9" r="1.75"/>
<circle cx="180.3" cy="318.9" r="1.75"/>
<circle cx="159.4" cy="307.0" r="1.75"/>
<circle cx="133.2" cy="277.3" r="1.75"/>
<circle cx="185.3" cy="286.5" r="1.75"/>
<circle cx="154.1" cy="299.8" r="1.75"/>
<circle cx="164.0" cy="318.7" r="1.75"/>
<circle cx="144.0" cy="309.9" r="1.75"/>
<circle cx="140.8" cy="280.1" r="1.75"/>
<circle cx="188.1" cy="280.3" r="1.75"/>
<circle cx="106.4" cy="261.5" r="1.75"/>
<circle cx="144.2" cy="267.7" r="1.75"/>
<circle cx="182.1" cy="306.3" r="1.75"/>
<circle cx="135.5" cy="301.5" r="1.75"/>
<circle cx="162.2" cy="300.2" r="1.75"/>
<circle cx="182.3" cy="314.6" r="1.75"/>
<circle cx="161.9" cy="310.0" r="1.75"/>
<circle cx="220.5" cy="266.2" r="1.75"/>
<circle cx="207.3" cy="262.5" r="1.75"/>
<circle cx="138.2" cy="265.4" r="1.75"/>
<circle cx="210.2" cy="279.5" r="1.75"/>
<circle cx="155.6" cy="280.4" r="1.75"/>
<circle cx="152.2" cy="296.9" r="1.75"/>
<circle cx="158.7" cy="298.6" r="1.75"/>
<circle cx="210.1" cy="267.3" r="1.75"/>
<circle cx="142.7" cy="294.3" r="1.75"/>
<circle cx="175.5" cy="314.3" r="1.75"/>
<circle cx="145.2" cy="275.5" r="1.75"/>
<circle cx="147.4" cy="298.4" r="1.75"/>
<circle cx="156.5" cy="307.3" r="1.75"/>
<circle cx="175.0" cy="315.3" r="1.75"/>
<circle cx="172.7" cy="321.4" r="1.75"/>
<circle cx="157.8" cy="305.7" r="1.75"/>
<circle cx="128.7" cy="283.6" r="1.75"/>
<circle cx="156.5" cy="295.2" r="1.75"/>
<circle cx="204.8" cy="271.3" r="1.75"/>
<circle cx="206.6" cy="271.3" r="1.75"/>
<circle cx="212.8" cy="280.6" r="1.75"/>
<circle cx="162.5" cy="300.0" r="1.75"/>
<circle cx="154.2" cy="306.0" r="1.75"/>
<circle cx="135.4" cy="271.7" r="1.75"/>
<circle cx="162.9" cy="316.6" r="1.75"/>
<circle cx="195.9" cy="296.4" r="1.75"/>
<circle cx="207.7" cy="281.9" r="1.75"/>
<circle cx="155.6" cy="312.1" r="1.75"/>
<circle cx="156.4" cy="303.2" r="1.75"/>
<circle cx="165.2" cy="308.2" r="1.75"/>
<circle cx="133.5" cy="282.4" r="1.75"/>
<circle cx="131.6" cy="300.7" r="1.75"/>
<circle cx="160.5" cy="294.8" r="1.75"/>
<circle cx="132.8" cy="264.5" r="1.75"/>
<circle cx="202.8" cy="298.9" r="1.75"/>
<circle cx="110.6" cy="261.4" r="1.75"/>
<circle cx="211.1" cy="269.1" r="1.75"/>
<circle cx="182.0" cy="304.3" r="1.75"/>
<circle cx="209.3" cy="276.2" r="1.75"/>
<circle cx="198.9" cy="295.3" r="1.75"/>
<circle cx="127.4" cy="273.7" r="1.75"/>
<circle cx="143.6" cy="287.3" r="1.75"/>
<circle cx="167.5" cy="314.0" r="1.75"/>
<circle cx="144.8" cy="304.2" r="1.75"/>
<circle cx="117.7" cy="271.6" r="1.75"/>
<circle cx="190.6" cy="294.1" r="1.75"/>
<circle cx="144.7" cy="295.4" r="1.75"/>
<circle cx="188.7" cy="304.7" r="1.75"/>
<circle cx="202.3" cy="264.8" r="1.75"/>
<circle cx="160.4" cy="300.3" r="1.75"/>
<circle cx="192.8" cy="304.2" r="1.75"/>
<circle cx="137.0" cy="296.9" r="1.75"/>
<circle cx="177.7" cy="322.7" r="1.75"/>
<circle cx="181.3" cy="299.5" r="1.75"/>
<circle cx="204.3" cy="280.5" r="1.75"/>
<circle cx="186.2" cy="275.1" r="1.75"/>
<circle cx="152.0" cy="293.4" r="1.75"/>
<circle cx="145.3" cy="282.1" r="1.75"/>
<circle cx="125.4" cy="292.8" r="1.75"/>
<circle cx="136.7" cy="263.0" r="1.75"/>
<circle cx="194.0" cy="284.5" r="1.75"/>
<circle cx="144.3" cy="311.4" r="1.75"/>
<circle cx="184.3" cy="280.5" r="1.75"/>
<circle cx="179.9" cy="308.6" r="1.75"/>
<circle cx="182.1" cy="287.9" r="1.75"/>
<circle cx="209.2" cy="262.0" r="1.75"/>
<circle cx="181.1" cy="319.6" r="1.75"/>
<circle cx="189.6" cy="278.9" r="1.75"/>
<circle cx="153.7" cy="277.2" r="1.75"/>
<circle cx="125.5" cy="267.2" r="1.75"/>
<circle cx="196.8" cy="296.4" r="1.75"/>
<circle cx="150.8" cy="300.1" r="1.75"/>
<circle cx="154.7" cy="306.1" r="1.75"/>
<circle cx="206.1" cy="282.7" r="1.75"/>
<circle cx="170.5" cy="320.5" r="1.75"/>
<circle cx="251.6" cy="272.6" r="1.75"/>
<circle cx="125.1" cy="295.0" r="1.75"/>
<circle cx="192.9" cy="278.4" r="1.75"/>
<circle cx="211.2" cy="267.3" r="1.75"/>
<circle cx="161.9" cy="298.8" r="1.75"/>
<circle cx="148.7" cy="297.1" r="1.75"/>
<circle cx="135.8" cy="285.6" r="1.75"/>
<circle cx="208.1" cy="262.1" r="1.75"/>
<circle cx="209.5" cy="284.5" r="1.75"/>
<circle cx="198.5" cy="273.1" r="1.75"/>
<circle cx="153.8" cy="301.1" r="1.75"/>
<circle cx="166.1" cy="308.1" r="1.75"/>
<circle cx="177.8" cy="309.3" r="1.75"/>
<circle cx="140.8" cy="292.4" r="1.75"/>
<circle cx="190.0" cy="272.0" r="1.75"/>
<circle cx="178.8" cy="305.1" r="1.75"/>
<circle cx="188.8" cy="304.2" r="1.75"/>
<circle cx="199.0" cy="296.7" r="1.75"/>
<circle cx="131.4" cy="265.4" r="1.75"/>
<circle cx="160.1" cy="308.5" r="1.75"/>
<circle cx="164.7" cy="313.6" r="1.75"/>
<circle cx="162.9" cy="300.7" r="1.75"/>
<circle cx="198.9" cy="276.7" r="1.75"/>
<circle cx="144.0" cy="298.7" r="1.75"/>
<circle cx="188.9" cy="273.9" r="1.75"/>
<circle cx="148.4" cy="291.0" r="1.75"/>
<circle cx="190.3" cy="301.7" r="1.75"/>
<circle cx="123.2" cy="282.3" r="1.75"/>
<circle cx="190.5" cy="275.0" r="1.75"/>
<circle cx="191.5" cy="279.3" r="1.75"/>
<circle cx="154.1" cy="315.3" r="1.75"/>
<circle cx="177.6" cy="305.3" r="1.75"/>
<circle cx="201.0" cy="285.1" r="1.75"/>
<circle cx="135.4" cy="273.3" r="1.75"/>
<circle cx="132.2" cy="270.6" r="1.75"/>
<circle cx="152.5" cy="298.8" r="1.75"/>
<circle cx="215.3" cy="262.2" r="1.75"/>
<circle cx="135.2" cy="272.1" r="1.75"/>
<circle cx="156.8" cy="287.5" r="1.75"/>
<circle cx="259.0" cy="262.0" r="1.75"/>
<circle cx="182.9" cy="309.8" r="1.75"/>
<circle cx="154.2" cy="299.6" r="1.75"/>
<circle cx="130.9" cy="264.9" r="1.75"/>
<circle cx="153.2" cy="280.4" r="1.75"/>
<circle cx="186.9" cy="303.3" r="1.75"/>
<circle cx="180.0" cy="313.0" r="1.75"/>
<circle cx="154.9" cy="287.6" r="1.75"/>
<circle cx="141.3" cy="285.4" r="1.75"/>
<circle cx="159.3" cy="315.4" r="1.75"/>
<circle cx="194.8" cy="307.1" r="1.75"/>
<circle cx="142.2" cy="290.8" r="1.75"/>
<circle cx="160.0" cy="301.1" r="1.75"/>
<circle cx="207.7" cy="262.0" r="1.75"/>
<circle cx="199.0" cy="260.5" r="1.75"/>
<circle cx="145.7" cy="303.2" r="1.75"/>
<circle cx="147.1" cy="294.1" r="1.75"/>
<circle cx="134.7" cy="276.2" r="1.75"/>
<circle cx="152.6" cy="299.4" r="1.75"/>
<circle cx="111.1" cy="278.9" r="1.75"/>
<circle cx="183.9" cy="310.2" r="1.75"/>
<circle cx="183.4" cy="307.1" r="1.75"/>
<circle cx="131.9" cy="262.6" r="1.75"/>
<circle cx="190.1" cy="288.9" r="1.75"/>
<circle cx="127.3" cy="288.4" r="1.75"/>
<circle cx="194.8" cy="289.5" r="1.75"/>
<circle cx="194.8" cy="303.0" r="1.75"/>
<circle cx="155.0" cy="316.5" r="1.75"/>
<circle cx="222.8" cy="261.6" r="1.75"/>
<circle cx="177.1" cy="305.2" r="1.75"/>
<circle cx="177.3" cy="320.7" r="1.75"/>
<circle cx="168.5" cy="316.7" r="1.75"/>
<circle cx="154.1" cy="291.5" r="1.75"/>
<circle cx="123.4" cy="270.1" r="1.75"/>
<circle cx="190.0" cy="269.5" r="1.75"/>
<circle cx="184.8" cy="285.6" r="1.75"/>
<circle cx="158.5" cy="298.2" r="1.75"/>
<circle cx="156.1" cy="287.6" r="1.75"/>
<circle cx="137.4" cy="285.7" r="1.75"/>
<circle cx="151.6" cy="289.3" r="1.75"/>
<circle cx="141.3" cy="304.6" r="1.75"/>
<circle cx="196.3" cy="304.0" r="1.75"/>
<circle cx="194.2" cy="300.4" r="1.75"/>
<circle cx="206.1" cy="261.9" r="1.75"/>
<circle cx="164.8" cy="319.4" r="1.75"/>
<circle cx="142.8" cy="271.3" r="1.75"/>
<circle cx="153.7" cy="281.0" r="1.75"/>
<circle cx="187.0" cy="294.8" r="1.75"/>
<circle cx="149.3" cy="263.2" r="1.75"/>
<circle cx="139.5" cy="285.9" r="1.75"/>
<circle cx="111.8" cy="267.9" r="1.75"/>
<circle cx="182.2" cy="317.6" r="1.75"/>
<circle cx="182.9" cy="312.4" r="1.75"/>
<circle cx="203.6" cy="260.3" r="1.75"/>
<circle cx="142.1" cy="292.6" r="1.75"/>
<circle cx="141.8" cy="307.7" r="1.75"/>
<circle cx="192.8" cy="284.2" r="1.75"/>
<circle cx="168.2" cy="319.9" r="1.75"/>
<circle cx="129.1" cy="264.3" r="1.75"/>
<circle cx="142.8" cy="294.5" r="1.75"/>
<circle cx="151.8" cy="285.5" r="1.75"/>
<circle cx="138.4" cy="280.3" r="1.75"/>
<circle cx="109.0" cy="261.3" r="1.75"/>
<circle cx="108.8" cy="267.3" r="1.75"/>
<circle cx="182.3" cy="308.9" r="1.75"/>
<circle cx="143.9" cy="299.6" r="1.75"/>
<circle cx="115.6" cy="265.4" r="1.75"/>
<circle cx="184.2" cy="304.7" r="1.75"/>
<circle cx="141.9" cy="262.5" r="1.75"/>
<circle cx="206.0" cy="270.2" r="1.75"/>
<circle cx="181.3" cy="304.2" r="1.75"/>
<circle cx="206.8" cy="275.4" r="1.75"/>
<circle cx="186.0" cy="308.1" r="1.75"/>
<circle cx="164.5" cy="318.9" r="1.75"/>
<circle cx="207.0" cy="276.0" r="1.75"/>
<circle cx="132.1" cy="273.9" r="1.75"/>
<circle cx="129.9" cy="265.2" r="1.75"/>
<circle cx="163.0" cy="312.7" r="1.75"/>
<circle cx="184.5" cy="283.3" r="1.75"/>
<circle cx="186.5" cy="290.9" r="1.75"/>
<circle cx="201.6" cy="290.2" r="1.75"/>
<circle cx="204.8" cy="274.2" r="1.75"/>
<circle cx="184.1" cy="298.0" r="1.75"/>
<circle cx="158.3" cy="301.6" r="1.75"/>
<circle cx="126.8" cy="264.3" r="1.75"/>
<circle cx="167.8" cy="320.9" r="1.75"/>
<circle cx="152.2" cy="270.9" r="1.75"/>
<circle cx="151.2" cy="273.7" r="1.75"/>
<circle cx="177.2" cy="315.4" r="1.75"/>
<circle cx="137.6" cy="282.6" r="1.75"/>
<circle cx="189.5" cy="289.1" r="1.75"/>
<circle cx="153.1" cy="299.4" r="1.75"/>
<circle cx="195.4" cy="269.7" r="1.75"/>
<circle cx="191.0" cy="271.5" r="1.75"/>
<circle cx="121.0" cy="283.2" r="1.75"/>
<circle cx="155.9" cy="295.7" r="1.75"/>
<circle cx="128.3" cy="291.2" r="1.75"/>
<circle cx="152.7" cy="295.7" r="1.75"/>
<circle cx="180.7" cy="317.1" r="1.75"/>
<circle cx="182.6" cy="299.3" r="1.75"/>
<circle cx="159.3" cy="308.2" r="1.75"/>
<circle cx="139.8" cy="260.2" r="1.75"/>
<circle cx="192.7" cy="293.7" r="1.75"/>
<circle cx="157.2" cy="305.5" r="1.75"/>
<circle cx="132.4" cy="263.1" r="1.75"/>
<circle cx="188.8" cy="287.5" r="1.75"/>
<circle cx="199.6" cy="262.0" r="1.75"/>
<circle cx="192.2" cy="274.6" r="1.75"/>
<circle cx="211.0" cy="260.2" r="1.75"/>
<circle cx="150.3" cy="287.2" r="1.75"/>
<circle cx="131.3" cy="287.8" r="1.75"/>
<circle cx="156.9" cy="291.8" r="1.75"/>
<circle cx="136.7" cy="264.3" r="1.75"/>
<circle cx="123.0" cy="285.4" r="1.75"/>
<circle cx="153.8" cy="294.1" r="1.75"/>
<circle cx="156.1" cy="296.2" r="1.75"/>
<circle cx="185.3" cy="292.0" r="1.75"/>
<circle cx="191.2" cy="270.2" r="1.75"/>
<circle cx="158.1" cy="294.9" r="1.75"/>
<circle cx="118.9" cy="262.9" r="1.75"/>
<circle cx="204.9" cy="271.4" r="1.75"/>
<circle cx="146.1" cy="267.1" r="1.75"/>
<circle cx="186.1" cy="285.8" r="1.75"/>
<circle cx="114.6" cy="264.4" r="1.75"/>
<circle cx="200.4" cy="296.9" r="1.75"/>
<circle cx="161.6" cy="318.0" r="1.75"/>
<circle cx="199.8" cy="283.0" r="1.75"/>
<circle cx="158.4" cy="296.1" r="1.75"/>
<circle cx="153.7" cy="285.1" r="1.75"/>
<circle cx="190.7" cy="290.3" r="1.75"/>
<circle cx="196.2" cy="308.2" r="1.75"/>
<circle cx="178.6" cy="309.5" r="1.75"/>
<circle cx="203.8" cy="286.7" r="1.75"/>
<circle cx="191.6" cy="307.0" r="1.75"/>
<circle cx="132.7" cy="269.3" r="1.75"/>
<circle cx="158.6" cy="288.0" r="1.75"/>
<circle cx="198.2" cy="267.6" r="1.75"/>
<circle cx="160.6" cy="311.6" r="1.75"/>
<circle cx="142.2" cy="311.9" r="1.75"/>
<circle cx="184.9" cy="299.8" r="1.75"/>
<circle cx="118.8" cy="263.0" r="1.75"/>
<circle cx="154.4" cy="277.6" r="1.75"/>
<circle cx="141.9" cy="260.5" r="1.75"/>
<circle cx="174.9" cy="318.1" r="1.75"/>
<circle cx="169.9" cy="319.0" r="1.75"/>
<circle cx="158.3" cy="305.4" r="1.75"/>
<circle cx="106.7" cy="273.0" r="1.75"/>
<circle cx="185.2" cy="291.5" r="1.75"/>
<circle cx="174.6" cy="318.0" r="1.75"/>
<circle cx="192.3" cy="285.2" r="1.75"/>
<circle cx="196.3" cy="276.0" r="1.75"/>
<circle cx="149.1" cy="264.3" r="1.75"/>
<circle cx="90.4" cy="290.3" r="1.75"/>
<circle cx="163.6" cy="307.7" r="1.75"/>
<circle cx="144.4" cy="294.8" r="1.75"/>
<circle cx="160.5" cy="296.5" r="1.75"/>
<circle cx="189.2" cy="312.2" r="1.75"/>
<circle cx="146.2" cy="276.9" r="1.75"/>
<circle cx="206.2" cy="271.3" r="1.75"/>
<circle cx="195.8" cy="274.2" r="1.75"/>
<circle cx="182.8" cy="293.6" r="1.75"/>
<circle cx="155.5" cy="301.6" r="1.75"/>
<circle cx="198.4" cy="282.1" r="1.75"/>
<circle cx="168.5" cy="318.8" r="1.75"/>
<circle cx="182.9" cy="306.1" r="1.75"/>
<circle cx="154.4" cy="277.2" r="1.75"/>
<circle cx="156.3" cy="296.4" r="1.75"/>
<circle cx="216.6" cy="262.0" r="1.75"/>
<circle cx="174.0" cy="319.2" r="1.75"/>
<circle cx="176.2" cy="318.1" r="1.75"/>
<circle cx="144.6" cy="260.4" r="1.75"/>
<circle cx="135.9" cy="273.0" r="1.75"/>
<circle cx="150.3" cy="286.2" r="1.75"/>
<circle cx="143.4" cy="305.4" r="1.75"/>
<circle cx="186.9" cy="294.2" r="1.75"/>
<circle cx="200.9" cy="289.0" r="1.75"/>
<circle cx="123.3" cy="281.2" r="1.75"/>
<circle cx="154.0" cy="295.0" r="1.75"/>
<circle cx="211.1" cy="276.5" r="1.75"/>
<circle cx="158.6" cy="298.1" r="1.75"/>
<circle cx="132.9" cy="273.8" r="1.75"/>
<circle cx="149.6" cy="275.9" r="1.75"/>
<circle cx="150.0" cy="307.6" r="1.75"/>
<circle cx="139.0" cy="302.3" r="1.75"/>
<circle cx="190.1" cy="291.9" r="1.75"/>
<circle cx="216.8" cy="271.4" r="1.75"/>
<circle cx="149.3" cy="269.9" r="1.75"/>
<circle cx="153.9" cy="278.4" r="1.75"/>
<circle cx="141.2" cy="310.0" r="1.75"/>
<circle cx="140.5" cy="297.1" r="1.75"/>
<circle cx="123.3" cy="278.5" r="1.75"/>
<circle cx="157.5" cy="305.6" r="1.75"/>
<circle cx="208.8" cy="272.7" r="1.75"/>
<circle cx="140.8" cy="293.4" r="1.75"/>
<circle cx="147.2" cy="295.2" r="1.75"/>
<circle cx="166.8" cy="314.3" r="1.75"/>
<circle cx="158.4" cy="292.9" r="1.75"/>
<circle cx="174.8" cy="312.3" r="1.75"/>
<circle cx="189.8" cy="270.1" r="1.75"/>
<circle cx="185.8" cy="316.0" r="1.75"/>
<circle cx="166.0" cy="313.0" r="1.75"/>
<circle cx="184.9" cy="299.3" r="1.75"/>
<circle cx="198.3" cy="295.2" r="1.75"/>
<circle cx="145.9" cy="288.4" r="1.75"/>
<circle cx="165.0" cy="311.8" r="1.75"/>
<circle cx="163.7" cy="308.4" r="1.75"/>
<circle cx="187.1" cy="300.4" r="1.75"/>
<circle cx="141.9" cy="289.5" r="1.75"/>
<circle cx="191.8" cy="299.0" r="1.75"/>
<circle cx="153.9" cy="314.8" r="1.75"/>
<circle cx="143.9" cy="268.5" r="1.75"/>
<circle cx="185.5" cy="305.8" r="1.75"/>
<circle cx="200.7" cy="284.9" r="1.75"/>
<circle cx="90.4" cy="275.6" r="1.75"/>
<circle cx="147.7" cy="290.4" r="1.75"/>
<circle cx="156.3" cy="292.6" r="1.75"/>
<circle cx="138.8" cy="280.5" r="1.75"/>
<circle cx="144.0" cy="261.4" r="1.75"/>
<circle cx="216.3" cy="263.2" r="1.75"/>
<circle cx="205.7" cy="269.3" r="1.75"/>
<circle cx="142.4" cy="262.1" r="1.75"/>
<circle cx="197.3" cy="268.0" r="1.75"/>
<circle cx="190.8" cy="299.8" r="1.75"/>
<circle cx="188.3" cy="307.0" r="1.75"/>
<circle cx="144.5" cy="288.4" r="1.75"/>
<circle cx="186.0" cy="298.2" r="1.75"/>
<circle cx="189.7" cy="279.3" r="1.75"/>
<circle cx="205.2" cy="287.6" r="1.75"/>
<circle cx="163.1" cy="313.5" r="1.75"/>
<circle cx="185.8" cy="296.0" r="1.75"/>
<circle cx="178.2" cy="307.0" r="1.75"/>
<circle cx="141.0" cy="280.5" r="1.75"/>
<circle cx="132.6" cy="285.4" r="1.75"/>
<circle cx="164.6" cy="321.8" r="1.75"/>
<circle cx="143.9" cy="295.8" r="1.75"/>
<circle cx="161.7" cy="311.9" r="1.75"/>
<circle cx="126.5" cy="289.0" r="1.75"/>
<circle cx="157.5" cy="303.7" r="1.75"/>
<circle cx="165.8" cy="316.9" r="1.75"/>
<circle cx="160.7" cy="307.2" r="1.75"/>
<circle cx="140.2" cy="273.2" r="1.75"/>
<circle cx="178.8" cy="322.8" r="1.75"/>
<circle cx="160.2" cy="293.1" r="1.75"/>
<circle cx="168.4" cy="316.0" r="1.75"/>
<circle cx="142.3" cy="311.1" r="1.75"/>
<circle cx="122.8" cy="276.8" r="1.75"/>
<circle cx="184.0" cy="305.4" r="1.75"/>
<circle cx="149.1" cy="294.8" r="1.75"/>
<circle cx="180.8" cy="303.6" r="1.75"/>
<circle cx="164.0" cy="304.0" r="1.75"/>
<circle cx="136.8" cy="286.0" r="1.75"/>
<circle cx="167.8" cy="318.5" r="1.75"/>
<circle cx="160.4" cy="319.2" r="1.75"/>
<circle cx="189.1" cy="301.8" r="1.75"/>
<circle cx="141.0" cy="306.2" r="1.75"/>
<circle cx="185.2" cy="275.9" r="1.75"/>
<circle cx="142.7" cy="263.9" r="1.75"/>
<circle cx="185.6" cy="282.5" r="1.75"/>
<circle cx="160.3" cy="308.0" r="1.75"/>
<circle cx="126.0" cy="279.8" r="1.75"/>
<circle cx="109.9" cy="263.3" r="1.75"/>
<circle cx="140.2" cy="263.5" r="1.75"/>
<circle cx="201.2" cy="281.4" r="1.75"/>
<circle cx="147.0" cy="293.7" r="1.75"/>
<circle cx="159.5" cy="303.1" r="1.75"/>
<circle cx="148.0" cy="290.5" r="1.75"/>
<circle cx="154.0" cy="302.6" r="1.75"/>
<circle cx="208.0" cy="277.4" r="1.75"/>
<circle cx="209.1" cy="271.6" r="1.75"/>
<circle cx="175.0" cy="316.0" r="1.75"/>
<circle cx="133.4" cy="282.7" r="1.75"/>
<circle cx="178.6" cy="302.5" r="1.75"/>
<circle cx="131.5" cy="272.1" r="1.75"/>
<circle cx="125.0" cy="279.8" r="1.75"/>
<circle cx="149.5" cy="272.9" r="1.75"/>
<circle cx="146.5" cy="274.2" r="1.75"/>
<circle cx="198.3" cy="270.5" r="1.75"/>
<circle cx="185.3" cy="296.9" r="1.75"/>
<circle cx="190.2" cy="310.0" r="1.75"/>
<circle cx="206.8" cy="283.9" r="1.75"/>
<circle cx="158.5" cy="299.2" r="1.75"/>
<circle cx="165.5" cy="307.3" r="1.75"/>
<circle cx="190.2" cy="301.1" r="1.75"/>
<circle cx="152.2" cy="279.7" r="1.75"/>
<circle cx="193.3" cy="286.9" r="1.75"/>
<circle cx="162.6" cy="313.8" r="1.75"/>
<circle cx="184.5" cy="315.4" r="1.75"/>
<circle cx="191.0" cy="263.3" r="1.75"/>
<circle cx="194.6" cy="274.9" r="1.75"/>
<circle cx="151.9" cy="271.6" r="1.75"/>
<circle cx="153.0" cy="295.7" r="1.75"/>
<circle cx="186.6" cy="296.1" r="1.75"/>
<circle cx="188.0" cy="270.6" r="1.75"/>
<circle cx="150.4" cy="276.3" r="1.75"/>
<circle cx="98.4" cy="279.0" r="1.75"/>
<circle cx="189.9" cy="283.4" r="1.75"/>
<circle cx="148.2" cy="268.2" r="1.75"/>
<circle cx="199.6" cy="263.9" r="1.75"/>
<circle cx="178.2" cy="315.1" r="1.75"/>
<circle cx="214.3" cy="277.1" r="1.75"/>
<circle cx="165.3" cy="319.4" r="1.75"/>
<circle cx="178.9" cy="302.4" r="1.75"/>
<circle cx="168.1" cy="321.1" r="1.75"/>
<circle cx="128.7" cy="268.5" r="1.75"/>
<circle cx="126.4" cy="262.9" r="1.75"/>
<circle cx="179.4" cy="319.6" r="1.75"/>
<circle cx="155.5" cy="294.1" r="1.75"/>
<circle cx="152.3" cy="273.6" r="1.75"/>
<circle cx="162.4" cy="309.8" r="1.75"/>
<circle cx="182.3" cy="321.2" r="1.75"/>
<circle cx="85.8" cy="290.1" r="1.75"/>
<circle cx="174.5" cy="317.0" r="1.75"/>
<circle cx="183.1" cy="306.1" r="1.75"/>
<circle cx="237.6" cy="278.2" r="1.75"/>
<circle cx="200.0" cy="278.5" r="1.75"/>
<circle cx="179.3" cy="305.3" r="1.75"/>
<circle cx="152.1" cy="303.2" r="1.75"/>
<circle cx="109.8" cy="271.8" r="1.75"/>
<circle cx="138.9" cy="273.1" r="1.75"/>
<circle cx="184.7" cy="279.9" r="1.75"/>
<circle cx="150.2" cy="273.9" r="1.75"/>
<circle cx="141.1" cy="300.8" r="1.75"/>
<circle cx="137.7" cy="260.3" r="1.75"/>
<circle cx="145.3" cy="281.6" r="1.75"/>
<circle cx="165.2" cy="320.4" r="1.75"/>
<circle cx="150.7" cy="282.8" r="1.75"/>
<circle cx="223.8" cy="262.4" r="1.75"/>
<circle cx="154.2" cy="284.8" r="1.75"/>
<circle cx="207.4" cy="286.3" r="1.75"/>
<circle cx="161.0" cy="297.7" r="1.75"/>
<circle cx="155.9" cy="290.8" r="1.75"/>
<circle cx="136.9" cy="279.9" r="1.75"/>
<circle cx="198.1" cy="263.5" r="1.75"/>
<circle cx="141.0" cy="310.4" r="1.75"/>
<circle cx="140.6" cy="295.3" r="1.75"/>
<circle cx="157.8" cy="305.8" r="1.75"/>
<circle cx="206.2" cy="288.8" r="1.75"/>
<circle cx="108.8" cy="261.7" r="1.75"/>
<circle cx="250.0" cy="272.0" r="1.75"/>
<circle cx="185.9" cy="294.1" r="1.75"/>
<circle cx="112.2" cy="267.0" r="1.75"/>
<circle cx="148.3" cy="263.1" r="1.75"/>
<circle cx="186.8" cy="297.0" r="1.75"/>
<circle cx="150.8" cy="280.8" r="1.75"/>
<circle cx="132.1" cy="262.2" r="1.75"/>
<circle cx="183.5" cy="315.9" r="1.75"/>
<circle cx="138.2" cy="263.3" r="1.75"/>
<circle cx="180.3" cy="307.8" r="1.75"/>
<circle cx="88.9" cy="271.3" r="1.75"/>
<circle cx="159.6" cy="304.4" r="1.75"/>
<circle cx="148.5" cy="266.7" r="1.75"/>
<circle cx="198.4" cy="270.3" r="1.75"/>
<circle cx="186.7" cy="307.3" r="1.75"/>
<circle cx="187.0" cy="300.0" r="1.75"/>
<circle cx="157.5" cy="308.8" r="1.75"/>
<circle cx="129.0" cy="270.9" r="1.75"/>
<circle cx="130.7" cy="291.1" r="1.75"/>
<circle cx="152.7" cy="313.8" r="1.75"/>
<circle cx="201.1" cy="270.3" r="1.75"/>
<circle cx="181.4" cy="315.2" r="1.75"/>
<circle cx="165.6" cy="309.7" r="1.75"/>
<circle cx="182.5" cy="293.7" r="1.75"/>
<circle cx="191.7" cy="273.6" r="1.75"/>
<circle cx="146.6" cy="291.2" r="1.75"/>
<circle cx="193.7" cy="297.1" r="1.75"/>
<circle cx="126.4" cy="272.2" r="1.75"/>
<circle cx="125.1" cy="261.1" r="1.75"/>
<circle cx="130.0" cy="291.6" r="1.75"/>
<circle cx="147.9" cy="270.4" r="1.75"/>
<circle cx="187.7" cy="280.3" r="1.75"/>
<circle cx="194.2" cy="277.4" r="1.75"/>
<circle cx="122.2" cy="278.7" r="1.75"/>
<circle cx="147.9" cy="274.0" r="1.75"/>
<circle cx="187.1" cy="273.4" r="1.75"/>
<circle cx="196.5" cy="291.5" r="1.75"/>
<circle cx="204.6" cy="268.1" r="1.75"/>
<circle cx="38.0" cy="271.5" r="1.75"/>
<circle cx="185.0" cy="305.2" r="1.75"/>
<circle cx="147.6" cy="309.3" r="1.75"/>
<circle cx="176.0" cy="320.1" r="1.75"/>
<circle cx="143.0" cy="288.9" r="1.75"/>
<circle cx="196.8" cy="286.2" r="1.75"/>
<circle cx="187.8" cy="274.0" r="1.75"/>
<circle cx="143.0" cy="260.4" r="1.75"/>
<circle cx="188.1" cy="300.7" r="1.75"/>
<circle cx="195.1" cy="268.6" r="1.75"/>
<circle cx="199.1" cy="272.8" r="1.75"/>
<circle cx="188.1" cy="269.0" r="1.75"/>
<circle cx="215.9" cy="265.1" r="1.75"/>
<circle cx="143.8" cy="290.7" r="1.75"/>
<circle cx="176.8" cy="312.4" r="1.75"/>
<circle cx="159.1" cy="303.1" r="1.75"/>
<circle cx="144.6" cy="293.7" r="1.75"/>
<circle cx="176.5" cy="312.1" r="1.75"/>
<circle cx="205.1" cy="283.7" r="1.75"/>
<circle cx="197.6" cy="287.3" r="1.75"/>
<circle cx="183.2" cy="311.9" r="1.75"/>
<circle cx="144.3" cy="304.4" r="1.75"/>
<circle cx="146.5" cy="269.7" r="1.75"/>
<circle cx="189.0" cy="297.5" r="1.75"/>
<circle cx="163.7" cy="303.5" r="1.75"/>
<circle cx="204.6" cy="290.3" r="1.75"/>
<circle cx="213.7" cy="262.0" r="1.75"/>
<circle cx="187.7" cy="316.6" r="1.75"/>
<circle cx="216.1" cy="263.1" r="1.75"/>
<circle cx="192.4" cy="289.3" r="1.75"/>
<circle cx="135.9" cy="303.0" r="1.75"/>
<circle cx="131.1" cy="277.2" r="1.75"/>
<circle cx="193.0" cy="276.8" r="1.75"/>
<circle cx="131.9" cy="290.8" r="1.75"/>
<circle cx="137.3" cy="277.4" r="1.75"/>
<circle cx="178.9" cy="304.5" r="1.75"/>
<circle cx="164.4" cy="309.3" r="1.75"/>
<circle cx="165.0" cy="308.4" r="1.75"/>
<circle cx="152.6" cy="315.5" r="1.75"/>
<circle cx="155.4" cy="278.8" r="1.75"/>
<circle cx="132.1" cy="266.1" r="1.75"/>
<circle cx="127.0" cy="290.8" r="1.75"/>
<circle cx="187.8" cy="286.4" r="1.75"/>
<circle cx="127.5" cy="267.0" r="1.75"/>
<circle cx="190.8" cy="295.1" r="1.75"/>
<circle cx="141.7" cy="272.2" r="1.75"/>
<circle cx="126.0" cy="284.2" r="1.75"/>
<circle cx="212.3" cy="281.0" r="1.75"/>
<circle cx="144.9" cy="299.0" r="1.75"/>
<circle cx="149.8" cy="278.0" r="1.75"/>
<circle cx="159.4" cy="315.7" r="1.75"/>
<circle cx="161.2" cy="303.7" r="1.75"/>
<circle cx="213.8" cy="282.5" r="1.75"/>
</g>
<circle cx="192.9" cy="260.0" r="1.75" fill="#f29e81"/>
<circle cx="228.4" cy="259.9" r="1.75" fill="#f29d81"/>
<circle cx="193.6" cy="259.8" r="1.75" fill="#f29d81"/>
<circle cx="126.3" cy="259.8" r="1.75" fill="#f29d81"/>
<circle cx="196.5" cy="259.7" r="1.75" fill="#f29d81"/>
<circle cx="212.0" cy="259.7" r="1.75" fill="#f29d81"/>
<circle cx="213.4" cy="259.7" r="1.75" fill="#f29d81"/>
<circle cx="144.7" cy="259.6" r="1.75" fill="#f29d81"/>
<circle cx="127.1" cy="259.4" r="1.75" fill="#f29d80"/>
<circle cx="226.8" cy="259.2" r="1.75" fill="#f29c80"/>
<circle cx="198.7" cy="259.1" r="1.75" fill="#f29c80"/>
<circle cx="208.3" cy="259.1" r="1.75" fill="#f29c80"/>
<circle cx="118.8" cy="259.1" r="1.75" fill="#f29c80"/>
<circle cx="210.4" cy="259.0" r="1.75" fill="#f29c80"/>
<circle cx="210.2" cy="258.9" r="1.75" fill="#f29c7f"/>
<circle cx="127.7" cy="258.6" r="1.75" fill="#f29c7f"/>
<circle cx="214.1" cy="258.5" r="1.75" fill="#f19b7f"/>
<circle cx="141.3" cy="258.3" r="1.75" fill="#f19b7e"/>
<circle cx="200.2" cy="258.2" r="1.75" fill="#f19b7e"/>
<circle cx="141.5" cy="258.2" r="1.75" fill="#f19b7e"/>
<circle cx="202.3" cy="258.2" r="1.75" fill="#f19b7e"/>
<circle cx="213.2" cy="258.1" r="1.75" fill="#f19b7e"/>
<circle cx="216.3" cy="258.0" r="1.75" fill="#f19b7e"/>
<circle cx="131.0" cy="257.8" r="1.75" fill="#f19a7e"/>
<circle cx="115.8" cy="257.8" r="1.75" fill="#f19a7e"/>
<circle cx="147.1" cy="257.3" r="1.75" fill="#f19a7d"/>
<circle cx="121.3" cy="257.2" r="1.75" fill="#f1997d"/>
<circle cx="104.3" cy="257.2" r="1.75" fill="#f1997d"/>
<circle cx="51.0" cy="257.2" r="1.75" fill="#f1997d"/>
<circle cx="147.8" cy="257.0" r="1.75" fill="#f1997c"/>
<circle cx="200.6" cy="256.9" r="1.75" fill="#f1997c"/>
<circle cx="114.8" cy="256.8" r="1.75" fill="#f1997c"/>
<circle cx="208.1" cy="256.7" r="1.75" fill="#f1997c"/>
<circle cx="124.5" cy="256.6" r="1.75" fill="#f1987c"/>
<circle cx="212.4" cy="256.4" r="1.75" fill="#f1987b"/>
<circle cx="135.1" cy="256.3" r="1.75" fill="#f1987b"/>
<circle cx="203.1" cy="256.3" r="1.75" fill="#f1987b"/>
<circle cx="199.6" cy="256.3" r="1.75" fill="#f1987b"/>
<circle cx="208.6" cy="256.2" r="1.75" fill="#f1987b"/>
<circle cx="143.9" cy="256.1" r="1.75" fill="#f1987b"/>
<circle cx="200.8" cy="256.0" r="1.75" fill="#f1977b"/>
<circle cx="108.2" cy="255.9" r="1.75" fill="#f1977a"/>
<circle cx="196.9" cy="255.8" r="1.75" fill="#f1977a"/>
<circle cx="142.9" cy="255.6" r="1.75" fill="#f1977a"/>
<circle cx="144.1" cy="255.6" r="1.75" fill="#f1977a"/>
<circle cx="105.6" cy="255.5" r="1.75" fill="#f1977a"/>
<circle cx="228.5" cy="255.4" r="1.75" fill="#f1977a"/>
<circle cx="109.6" cy="255.3" r="1.75" fill="#f19679"/>
<circle cx="203.8" cy="255.3" r="1.75" fill="#f19679"/>
<circle cx="128.7" cy="255.2" r="1.75" fill="#f19679"/>
<circle cx="109.9" cy="255.1" r="1.75" fill="#f19679"/>
<circle cx="207.7" cy="255.0" r="1.75" fill="#f19679"/>
<circle cx="232.6" cy="254.7" r="1.75" fill="#f19578"/>
<circle cx="137.9" cy="254.6" r="1.75" fill="#f19578"/>
<circle cx="229.4" cy="254.4" r="1.75" fill="#f19578"/>
<circle cx="137.0" cy="254.4" r="1.75" fill="#f19578"/>
<circle cx="119.3" cy="254.2" r="1.75" fill="#f19578"/>
<circle cx="116.6" cy="254.0" r="1.75" fill="#f19477"/>
<circle cx="102.3" cy="253.9" r="1.75" fill="#f19477"/>
<circle cx="130.1" cy="253.8" r="1.75" fill="#f19477"/>
<circle cx="211.7" cy="253.8" r="1.75" fill="#f19477"/>
<circle cx="139.7" cy="253.7" r="1.75" fill="#f19477"/>
<circle cx="100.8" cy="253.7" r="1.75" fill="#f19477"/>
<circle cx="203.9" cy="253.5" r="1.75" fill="#f19476"/>
<circle cx="236.7" cy="253.5" r="1.75" fill="#f19476"/>
<circle cx="199.0" cy="253.4" r="1.75" fill="#f19476"/>
<circle cx="196.2" cy="253.3" r="1.75" fill="#f19376"/>
<circle cx="125.3" cy="253.3" r="1.75" fill="#f19376"/>
<circle cx="129.4" cy="253.3" r="1.75" fill="#f19376"/>
<circle cx="122.2" cy="253.3" r="1.75" fill="#f19376"/>
<circle cx="123.7" cy="252.9" r="1.75" fill="#f19375"/>
<circle cx="213.5" cy="252.9" r="1.75" fill="#f19375"/>
<circle cx="130.1" cy="252.7" r="1.75" fill="#f19375"/>
<circle cx="142.5" cy="252.6" r="1.75" fill="#f09275"/>
<circle cx="105.2" cy="252.6" r="1.75" fill="#f09275"/>
<circle cx="143.7" cy="252.4" r="1.75" fill="#f09275"/>
<circle cx="141.6" cy="252.3" r="1.75" fill="#f09274"/>
<circle cx="120.9" cy="252.2" r="1.75" fill="#f09274"/>
<circle cx="108.5" cy="252.2" r="1.75" fill="#f09274"/>
<circle cx="109.0" cy="252.2" r="1.75" fill="#f09274"/>
<circle cx="129.4" cy="252.1" r="1.75" fill="#f09274"/>
<circle cx="196.7" cy="251.7" r="1.75" fill="#f09173"/>
<circle cx="116.9" cy="251.7" r="1.75" fill="#f09173"/>
<circle cx="141.3" cy="251.4" r="1.75" fill="#f09073"/>
<circle cx="192.7" cy="251.3" r="1.75" fill="#f09073"/>
<circle cx="108.4" cy="251.1" r="1.75" fill="#f09072"/>
<circle cx="132.0" cy="251.0" r="1.75" fill="#f09072"/>
<circle cx="211.8" cy="251.0" r="1.75" fill="#f09072"/>
<circle cx="120.6" cy="251.0" r="1.75" fill="#f09072"/>
<circle cx="237.2" cy="250.9" r="1.75" fill="#f09072"/>
<circle cx="134.9" cy="250.8" r="1.75" fill="#f09072"/>
<circle cx="118.0" cy="250.5" r="1.75" fill="#f08f71"/>
<circle cx="208.6" cy="250.4" r="1.75" fill="#f08f71"/>
<circle cx="106.9" cy="250.4" r="1.75" fill="#f08f71"/>
<circle cx="103.1" cy="250.4" r="1.75" fill="#f08f71"/>
<circle cx="145.1" cy="250.3" r="1.75" fill="#f08f71"/>
<circle cx="112.0" cy="250.3" r="1.75" fill="#f08f71"/>
<circle cx="120.5" cy="250.2" r="1.75" fill="#f08f71"/>
<circle cx="129.1" cy="250.2" r="1.75" fill="#f08f71"/>
<circle cx="220.8" cy="250.2" r="1.75" fill="#f08f71"/>
<circle cx="113.9" cy="250.1" r="1.75" fill="#f08f71"/>
<circle cx="135.4" cy="250.1" r="1.75" fill="#f08f71"/>
<circle cx="112.1" cy="250.0" r="1.75" fill="#f08e70"/>
<circle cx="121.4" cy="250.0" r="1.75" fill="#f08e70"/>
<circle cx="105.7" cy="249.9" r="1.75" fill="#f08e70"/>
<circle cx="120.1" cy="249.9" r="1.75" fill="#f08e70"/>
<circle cx="212.7" cy="249.9" r="1.75" fill="#f08e70"/>
<circle cx="118.9" cy="249.7" r="1.75" fill="#f08e70"/>
<circle cx="102.6" cy="249.5" r="1.75" fill="#f08e70"/>
<circle cx="201.5" cy="249.4" r="1.75" fill="#f08d6f"/>
<circle cx="99.4" cy="249.3" r="1.75" fill="#f08d6f"/>
<circle cx="100.0" cy="249.2" r="1.75" fill="#f08d6f"/>
<circle cx="198.7" cy="249.1" r="1.75" fill="#f08d6f"/>
<circle cx="127.9" cy="248.9" r="1.75" fill="#f08d6f"/>
<circle cx="103.7" cy="248.9" r="1.75" fill="#f08d6f"/>
<circle cx="98.8" cy="248.8" r="1.75" fill="#f08d6e"/>
<circle cx="237.3" cy="248.7" r="1.75" fill="#f08d6e"/>
<circle cx="141.4" cy="248.7" r="1.75" fill="#f08c6e"/>
<circle cx="98.7" cy="248.6" r="1.75" fill="#f08c6e"/>
<circle cx="208.2" cy="248.6" r="1.75" fill="#f08c6e"/>
<circle cx="225.6" cy="248.5" r="1.75" fill="#f08c6e"/>
<circle cx="232.0" cy="248.3" r="1.75" fill="#f08c6e"/>
<circle cx="136.4" cy="248.2" r="1.75" fill="#f08c6d"/>
<circle cx="205.9" cy="248.2" r="1.75" fill="#f08c6d"/>
<circle cx="96.2" cy="248.1" r="1.75" fill="#f08c6d"/>
<circle cx="195.6" cy="247.9" r="1.75" fill="#f08b6d"/>
<circle cx="127.9" cy="247.7" r="1.75" fill="#f08b6d"/>
<circle cx="208.0" cy="247.6" r="1.75" fill="#f08b6c"/>
<circle cx="138.9" cy="247.4" r="1.75" fill="#f08b6c"/>
<circle cx="142.8" cy="247.4" r="1.75" fill="#f08a6c"/>
<circle cx="125.4" cy="247.1" r="1.75" fill="#f08a6c"/>
<circle cx="107.2" cy="247.0" r="1.75" fill="#f08a6b"/>
<circle cx="134.6" cy="246.8" r="1.75" fill="#f08a6b"/>
<circle cx="113.3" cy="246.8" r="1.75" fill="#f08a6b"/>
<circle cx="104.4" cy="246.4" r="1.75" fill="#ef896a"/>
<circle cx="117.5" cy="246.4" r="1.75" fill="#ef896a"/>
<circle cx="209.6" cy="246.4" r="1.75" fill="#ef896a"/>
<circle cx="133.3" cy="246.3" r="1.75" fill="#ef896a"/>
<circle cx="104.3" cy="246.2" r="1.75" fill="#ef896a"/>
<circle cx="197.4" cy="246.1" r="1.75" fill="#ef886a"/>
<circle cx="230.2" cy="246.0" r="1.75" fill="#ef886a"/>
<circle cx="115.2" cy="245.9" r="1.75" fill="#ef886a"/>
<circle cx="217.3" cy="245.9" r="1.75" fill="#ef886a"/>
<circle cx="207.1" cy="245.8" r="1.75" fill="#ef8869"/>
<circle cx="56.5" cy="245.7" r="1.75" fill="#ef8869"/>
<circle cx="111.8" cy="245.6" r="1.75" fill="#ef8869"/>
<circle cx="240.1" cy="245.6" r="1.75" fill="#ef8869"/>
<circle cx="99.0" cy="245.3" r="1.75" fill="#ef8769"/>
<circle cx="104.9" cy="245.2" r="1.75" fill="#ef8768"/>
<circle cx="109.8" cy="245.2" r="1.75" fill="#ef8768"/>
<circle cx="253.0" cy="245.2" r="1.75" fill="#ef8768"/>
<circle cx="128.2" cy="245.2" r="1.75" fill="#ef8768"/>
<circle cx="241.9" cy="245.1" r="1.75" fill="#ef8768"/>
<circle cx="123.8" cy="245.1" r="1.75" fill="#ef8768"/>
<circle cx="124.0" cy="244.6" r="1.75" fill="#ef8667"/>
<circle cx="75.0" cy="244.6" r="1.75" fill="#ef8667"/>
<circle cx="211.3" cy="244.5" r="1.75" fill="#ef8667"/>
<circle cx="112.4" cy="244.5" r="1.75" fill="#ef8667"/>
<circle cx="106.8" cy="244.4" r="1.75" fill="#ef8667"/>
<circle cx="104.9" cy="244.4" r="1.75" fill="#ef8667"/>
<circle cx="199.1" cy="244.1" r="1.75" fill="#ef8667"/>
<circle cx="142.0" cy="244.1" r="1.75" fill="#ef8667"/>
<circle cx="136.9" cy="244.1" r="1.75" fill="#ef8567"/>
<circle cx="118.9" cy="244.1" r="1.75" fill="#ef8566"/>
<circle cx="194.4" cy="244.0" r="1.75" fill="#ef8566"/>
<circle cx="252.0" cy="244.0" r="1.75" fill="#ef8566"/>
<circle cx="120.8" cy="243.9" r="1.75" fill="#ef8566"/>
<circle cx="96.0" cy="243.9" r="1.75" fill="#ef8566"/>
<circle cx="208.0" cy="243.9" r="1.75" fill="#ef8566"/>
<circle cx="115.7" cy="243.8" r="1.75" fill="#ef8566"/>
<circle cx="203.1" cy="243.8" r="1.75" fill="#ef8566"/>
<circle cx="198.5" cy="243.8" r="1.75" fill="#ef8566"/>
<circle cx="211.6" cy="243.6" r="1.75" fill="#ef8566"/>
<circle cx="142.6" cy="243.3" r="1.75" fill="#ef8465"/>
<circle cx="140.1" cy="243.2" r="1.75" fill="#ef8465"/>
<circle cx="217.9" cy="243.2" r="1.75" fill="#ef8465"/>
<circle cx="201.8" cy="243.1" r="1.75" fill="#ef8465"/>
<circle cx="139.5" cy="243.1" r="1.75" fill="#ef8465"/>
<circle cx="100.9" cy="243.0" r="1.75" fill="#ef8465"/>
<circle cx="106.5" cy="242.9" r="1.75" fill="#ef8465"/>
<circle cx="111.0" cy="242.7" r="1.75" fill="#ef8364"/>
<circle cx="228.5" cy="242.7" r="1.75" fill="#ef8364"/>
<circle cx="129.1" cy="242.7" r="1.75" fill="#ef8364"/>
<circle cx="235.0" cy="242.6" r="1.75" fill="#ef8364"/>
<circle cx="125.7" cy="242.5" r="1.75" fill="#ef8364"/>
<circle cx="138.4" cy="242.3" r="1.75" fill="#ef8364"/>
<circle cx="130.8" cy="242.3" r="1.75" fill="#ef8364"/>
<circle cx="109.3" cy="242.2" r="1.75" fill="#ef8363"/>
<circle cx="195.0" cy="241.8" r="1.75" fill="#ef8263"/>
<circle cx="133.4" cy="241.8" r="1.75" fill="#ef8263"/>
<circle cx="210.4" cy="241.7" r="1.75" fill="#ef8262"/>
<circle cx="227.5" cy="241.6" r="1.75" fill="#ef8262"/>
<circle cx="202.3" cy="241.3" r="1.75" fill="#ef8162"/>
<circle cx="137.7" cy="241.2" r="1.75" fill="#ef8162"/>
<circle cx="122.3" cy="241.1" r="1.75" fill="#ef8162"/>
<circle cx="111.8" cy="241.0" r="1.75" fill="#ef8161"/>
<circle cx="138.2" cy="240.8" r="1.75" fill="#ee8061"/>
<circle cx="110.0" cy="240.7" r="1.75" fill="#ee8061"/>
<circle cx="126.9" cy="240.4" r="1.75" fill="#ee8060"/>
<circle cx="197.1" cy="240.1" r="1.75" fill="#ee7f60"/>
<circle cx="119.7" cy="239.9" r="1.75" fill="#ee7f5f"/>
<circle cx="97.8" cy="239.8" r="1.75" fill="#ee7f5f"/>
<circle cx="240.3" cy="239.5" r="1.75" fill="#ee7f5f"/>
<circle cx="202.3" cy="239.4" r="1.75" fill="#ee7e5f"/>
<circle cx="214.9" cy="239.4" r="1.75" fill="#ee7e5f"/>
<circle cx="251.4" cy="239.3" r="1.75" fill="#ee7e5f"/>
<circle cx="200.3" cy="239.2" r="1.75" fill="#ee7e5e"/>
<circle cx="208.5" cy="239.2" r="1.75" fill="#ee7e5e"/>
<circle cx="218.6" cy="239.2" r="1.75" fill="#ee7e5e"/>
<circle cx="138.8" cy="239.1" r="1.75" fill="#ee7e5e"/>
<circle cx="138.2" cy="239.1" r="1.75" fill="#ee7e5e"/>
<circle cx="220.3" cy="239.0" r="1.75" fill="#ee7e5e"/>
<circle cx="136.5" cy="239.0" r="1.75" fill="#ee7e5e"/>
<circle cx="113.9" cy="239.0" r="1.75" fill="#ee7e5e"/>
<circle cx="136.7" cy="238.8" r="1.75" fill="#ee7d5e"/>
<circle cx="240.0" cy="238.7" r="1.75" fill="#ee7d5d"/>
<circle cx="199.3" cy="238.7" r="1.75" fill="#ee7d5d"/>
<circle cx="209.2" cy="238.6" r="1.75" fill="#ee7d5d"/>
<circle cx="137.4" cy="238.4" r="1.75" fill="#ee7d5d"/>
<circle cx="129.4" cy="238.4" r="1.75" fill="#ee7d5d"/>
<circle cx="139.7" cy="238.3" r="1.75" fill="#ee7d5d"/>
<circle cx="209.0" cy="237.9" r="1.75" fill="#ee7c5c"/>
<circle cx="235.3" cy="237.9" r="1.75" fill="#ee7c5c"/>
<circle cx="137.6" cy="237.8" r="1.75" fill="#ee7c5c"/>
<circle cx="105.8" cy="237.7" r="1.75" fill="#ee7c5c"/>
<circle cx="119.1" cy="237.7" r="1.75" fill="#ee7c5c"/>
<circle cx="226.6" cy="237.6" r="1.75" fill="#ee7c5c"/>
<circle cx="129.4" cy="237.4" r="1.75" fill="#ee7b5b"/>
<circle cx="102.5" cy="237.3" r="1.75" fill="#ee7b5b"/>
<circle cx="51.5" cy="237.2" r="1.75" fill="#ee7b5b"/>
<circle cx="227.9" cy="237.1" r="1.75" fill="#ee7b5b"/>
<circle cx="212.0" cy="236.9" r="1.75" fill="#ee7b5b"/>
<circle cx="119.7" cy="236.7" r="1.75" fill="#ee7a5a"/>
<circle cx="121.9" cy="236.6" r="1.75" fill="#ee7a5a"/>
<circle cx="202.0" cy="236.4" r="1.75" fill="#ee7a5a"/>
<circle cx="219.8" cy="236.1" r="1.75" fill="#ee795a"/>
<circle cx="134.8" cy="236.0" r="1.75" fill="#ee7959"/>
<circle cx="211.1" cy="235.9" r="1.75" fill="#ee7959"/>
<circle cx="120.3" cy="235.8" r="1.75" fill="#ee7959"/>
<circle cx="237.8" cy="235.7" r="1.75" fill="#ee7959"/>
<circle cx="100.3" cy="235.7" r="1.75" fill="#ee7959"/>
<circle cx="199.8" cy="235.4" r="1.75" fill="#ed7858"/>
<circle cx="112.4" cy="235.1" r="1.75" fill="#ed7858"/>
<circle cx="211.9" cy="235.0" r="1.75" fill="#ed7858"/>
<circle cx="112.7" cy="234.9" r="1.75" fill="#ed7858"/>
<circle cx="224.5" cy="234.8" r="1.75" fill="#ed7858"/>
<circle cx="139.0" cy="234.7" r="1.75" fill="#ed7758"/>
<circle cx="122.6" cy="234.6" r="1.75" fill="#ed7757"/>
<circle cx="203.6" cy="234.5" r="1.75" fill="#ed7757"/>
<circle cx="114.5" cy="234.0" r="1.75" fill="#ed7657"/>
<circle cx="136.8" cy="233.9" r="1.75" fill="#ed7656"/>
<circle cx="206.4" cy="233.8" r="1.75" fill="#ed7656"/>
<circle cx="219.4" cy="233.7" r="1.75" fill="#ed7656"/>
<circle cx="106.4" cy="233.7" r="1.75" fill="#ed7656"/>
<circle cx="219.9" cy="233.4" r="1.75" fill="#ed7556"/>
<circle cx="204.4" cy="233.2" r="1.75" fill="#ed7555"/>
<circle cx="216.9" cy="233.2" r="1.75" fill="#ed7555"/>
<circle cx="122.9" cy="233.1" r="1.75" fill="#ed7555"/>
<circle cx="226.4" cy="232.8" r="1.75" fill="#ed7555"/>
<circle cx="236.4" cy="232.5" r="1.75" fill="#ed7454"/>
<circle cx="133.4" cy="232.4" r="1.75" fill="#ed7454"/>
<circle cx="114.9" cy="232.4" r="1.75" fill="#ed7454"/>
<circle cx="236.9" cy="232.2" r="1.75" fill="#ed7454"/>
<circle cx="207.4" cy="232.0" r="1.75" fill="#ed7354"/>
<circle cx="128.7" cy="231.9" r="1.75" fill="#ed7354"/>
<circle cx="127.3" cy="231.9" r="1.75" fill="#ed7353"/>
<circle cx="132.2" cy="231.9" r="1.75" fill="#ed7353"/>
<circle cx="201.9" cy="231.7" r="1.75" fill="#ed7353"/>
<circle cx="226.7" cy="231.5" r="1.75" fill="#ed7353"/>
<circle cx="225.4" cy="231.3" r="1.75" fill="#ed7253"/>
<circle cx="231.7" cy="231.1" r="1.75" fill="#ed7252"/>
<circle cx="113.2" cy="231.1" r="1.75" fill="#ed7252"/>
<circle cx="135.6" cy="230.7" r="1.75" fill="#ec7152"/>
<circle cx="136.7" cy="230.7" r="1.75" fill="#ec7152"/>
<circle cx="108.6" cy="230.5" r="1.75" fill="#ec7151"/>
<circle cx="120.1" cy="230.5" r="1.75" fill="#ec7151"/>
<circle cx="127.9" cy="230.4" r="1.75" fill="#ec7151"/>
<circle cx="199.7" cy="230.1" r="1.75" fill="#ec7051"/>
<circle cx="115.4" cy="229.9" r="1.75" fill="#ec7051"/>
<circle cx="203.0" cy="229.9" r="1.75" fill="#ec7051"/>
<circle cx="234.9" cy="229.8" r="1.75" fill="#ec7050"/>
<circle cx="130.0" cy="229.7" r="1.75" fill="#ec7050"/>
<circle cx="96.3" cy="229.4" r="1.75" fill="#ec7050"/>
<circle cx="128.8" cy="229.2" r="1.75" fill="#ec6f50"/>
<circle cx="229.2" cy="229.1" r="1.75" fill="#ec6f4f"/>
<circle cx="109.9" cy="229.1" r="1.75" fill="#ec6f4f"/>
<circle cx="218.7" cy="229.0" r="1.75" fill="#ec6f4f"/>
<circle cx="232.1" cy="228.6" r="1.75" fill="#ec6e4f"/>
<circle cx="113.1" cy="228.6" r="1.75" fill="#ec6e4f"/>
<circle cx="125.3" cy="228.6" r="1.75" fill="#ec6e4f"/>
<circle cx="214.4" cy="228.6" r="1.75" fill="#ec6e4f"/>
<circle cx="136.0" cy="228.4" r="1.75" fill="#ec6e4e"/>
<circle cx="134.9" cy="228.3" r="1.75" fill="#ec6e4e"/>
<circle cx="137.4" cy="228.3" r="1.75" fill="#ec6e4e"/>
<circle cx="125.4" cy="228.3" r="1.75" fill="#ec6e4e"/>
<circle cx="207.8" cy="228.1" r="1.75" fill="#ec6e4e"/>
<circle cx="116.5" cy="227.8" r="1.75" fill="#ec6d4e"/>
<circle cx="97.1" cy="227.5" r="1.75" fill="#ec6d4d"/>
<circle cx="121.2" cy="227.2" r="1.75" fill="#ec6c4d"/>
<circle cx="135.7" cy="227.1" r="1.75" fill="#ec6c4d"/>
<circle cx="103.5" cy="227.1" r="1.75" fill="#ec6c4d"/>
<circle cx="225.3" cy="227.0" r="1.75" fill="#ec6c4c"/>
<circle cx="108.3" cy="226.8" r="1.75" fill="#ec6c4c"/>
<circle cx="118.5" cy="226.7" r="1.75" fill="#ec6c4c"/>
<circle cx="132.1" cy="226.4" r="1.75" fill="#ec6b4c"/>
<circle cx="136.4" cy="226.3" r="1.75" fill="#ec6b4b"/>
<circle cx="135.0" cy="226.2" r="1.75" fill="#ec6b4b"/>
<circle cx="122.7" cy="226.2" r="1.75" fill="#ec6b4b"/>
<circle cx="131.5" cy="226.1" r="1.75" fill="#ec6b4b"/>
<circle cx="262.5" cy="226.0" r="1.75" fill="#ec6b4b"/>
<circle cx="120.5" cy="225.6" r="1.75" fill="#eb6a4a"/>
<circle cx="98.2" cy="225.6" r="1.75" fill="#eb6a4a"/>
<circle cx="205.4" cy="225.6" r="1.75" fill="#eb6a4a"/>
<circle cx="112.9" cy="225.4" r="1.75" fill="#eb6a4a"/>
<circle cx="209.4" cy="225.1" r="1.75" fill="#eb694a"/>
<circle cx="129.2" cy="225.0" r="1.75" fill="#eb694a"/>
<circle cx="203.3" cy="224.9" r="1.75" fill="#eb6949"/>
<circle cx="212.5" cy="224.8" r="1.75" fill="#eb6949"/>
<circle cx="234.3" cy="224.8" r="1.75" fill="#eb6949"/>
<circle cx="129.7" cy="224.8" r="1.75" fill="#eb6949"/>
<circle cx="202.6" cy="224.5" r="1.75" fill="#eb6849"/>
<circle cx="105.6" cy="224.4" r="1.75" fill="#eb6849"/>
<circle cx="135.5" cy="224.4" r="1.75" fill="#eb6849"/>
<circle cx="111.0" cy="224.4" r="1.75" fill="#eb6849"/>
<circle cx="219.0" cy="224.2" r="1.75" fill="#eb6848"/>
<circle cx="210.1" cy="224.2" r="1.75" fill="#eb6848"/>
<circle cx="135.4" cy="224.1" r="1.75" fill="#eb6848"/>
<circle cx="225.0" cy="223.9" r="1.75" fill="#eb6748"/>
<circle cx="125.8" cy="223.8" r="1.75" fill="#eb6748"/>
<circle cx="124.4" cy="223.4" r="1.75" fill="#eb6747"/>
<circle cx="110.7" cy="223.0" r="1.75" fill="#eb6647"/>
<circle cx="123.2" cy="222.6" r="1.75" fill="#eb6646"/>
<circle cx="86.5" cy="222.3" r="1.75" fill="#eb6546"/>
<circle cx="211.3" cy="222.3" r="1.75" fill="#eb6546"/>
<circle cx="135.3" cy="221.9" r="1.75" fill="#eb6545"/>
<circle cx="116.1" cy="221.7" r="1.75" fill="#eb6445"/>
<circle cx="118.6" cy="221.7" r="1.75" fill="#eb6445"/>
<circle cx="126.7" cy="221.2" r="1.75" fill="#ea6344"/>
<circle cx="131.5" cy="221.2" r="1.75" fill="#ea6344"/>
<circle cx="220.0" cy="221.1" r="1.75" fill="#ea6344"/>
<circle cx="134.1" cy="221.0" r="1.75" fill="#ea6344"/>
<circle cx="124.4" cy="220.9" r="1.75" fill="#ea6344"/>
<circle cx="115.2" cy="220.8" r="1.75" fill="#ea6344"/>
<circle cx="112.4" cy="220.7" r="1.75" fill="#ea6343"/>
<circle cx="221.7" cy="220.3" r="1.75" fill="#ea6243"/>
<circle cx="126.1" cy="219.9" r="1.75" fill="#ea6242"/>
<circle cx="129.4" cy="219.8" r="1.75" fill="#ea6142"/>
<circle cx="230.6" cy="219.6" r="1.75" fill="#ea6142"/>
<circle cx="131.3" cy="219.6" r="1.75" fill="#ea6142"/>
<circle cx="233.9" cy="219.5" r="1.75" fill="#ea6142"/>
<circle cx="234.0" cy="219.5" r="1.75" fill="#ea6142"/>
<circle cx="96.7" cy="219.5" r="1.75" fill="#ea6142"/>
<circle cx="100.0" cy="219.3" r="1.75" fill="#ea6141"/>
<circle cx="208.3" cy="219.2" r="1.75" fill="#ea6141"/>
<circle cx="69.2" cy="219.2" r="1.75" fill="#ea6041"/>
<circle cx="106.5" cy="219.1" r="1.75" fill="#ea6041"/>
<circle cx="239.5" cy="218.6" r="1.75" fill="#ea6040"/>
<circle cx="112.5" cy="218.5" r="1.75" fill="#ea5f40"/>
<circle cx="133.0" cy="218.4" r="1.75" fill="#ea5f40"/>
<circle cx="216.4" cy="217.9" r="1.75" fill="#ea5f3f"/>
<circle cx="131.1" cy="217.7" r="1.75" fill="#ea5e3f"/>
<circle cx="89.5" cy="217.2" r="1.75" fill="#ea5e3e"/>
<circle cx="221.8" cy="217.0" r="1.75" fill="#ea5d3e"/>
<circle cx="108.3" cy="216.7" r="1.75" fill="#ea5d3e"/>
<circle cx="203.4" cy="216.6" r="1.75" fill="#ea5d3e"/>
<circle cx="121.0" cy="216.3" r="1.75" fill="#e95c3d"/>
<circle cx="117.7" cy="215.6" r="1.75" fill="#e95b3c"/>
<circle cx="132.1" cy="215.4" r="1.75" fill="#e95b3c"/>
<circle cx="217.3" cy="215.3" r="1.75" fill="#e95b3c"/>
<circle cx="117.6" cy="215.3" r="1.75" fill="#e95b3c"/>
<circle cx="120.2" cy="215.3" r="1.75" fill="#e95b3c"/>
<circle cx="101.9" cy="215.2" r="1.75" fill="#e95b3b"/>
<circle cx="99.7" cy="215.0" r="1.75" fill="#e95a3b"/>
<circle cx="204.0" cy="215.0" r="1.75" fill="#e95a3b"/>
<circle cx="130.8" cy="215.0" r="1.75" fill="#e95a3b"/>
<circle cx="112.1" cy="214.8" r="1.75" fill="#e95a3b"/>
<circle cx="207.3" cy="214.4" r="1.75" fill="#e9593a"/>
<circle cx="216.0" cy="214.1" r="1.75" fill="#e9593a"/>
<circle cx="116.5" cy="213.9" r="1.75" fill="#e9593a"/>
<circle cx="109.8" cy="213.9" r="1.75" fill="#e9593a"/>
<circle cx="98.1" cy="213.8" r="1.75" fill="#e9593a"/>
<circle cx="114.5" cy="213.7" r="1.75" fill="#e9583a"/>
<circle cx="108.8" cy="213.6" r="1.75" fill="#e95839"/>
<circle cx="124.1" cy="213.5" r="1.75" fill="#e95839"/>
<circle cx="118.0" cy="213.2" r="1.75" fill="#e95839"/>
<circle cx="117.1" cy="213.2" r="1.75" fill="#e95839"/>
<circle cx="100.5" cy="213.1" r="1.75" fill="#e95839"/>
<circle cx="123.4" cy="213.1" r="1.75" fill="#e95839"/>
<circle cx="222.9" cy="212.7" r="1.75" fill="#e95739"/>
<circle cx="110.3" cy="211.7" r="1.75" fill="#e85638"/>
<circle cx="114.0" cy="211.5" r="1.75" fill="#e85638"/>
<circle cx="214.0" cy="211.5" r="1.75" fill="#e85638"/>
<circle cx="204.0" cy="211.0" r="1.75" fill="#e85537"/>
<circle cx="231.3" cy="210.0" r="1.75" fill="#e85436"/>
<circle cx="124.6" cy="209.8" r="1.75" fill="#e85336"/>
<circle cx="124.3" cy="209.7" r="1.75" fill="#e85336"/>
<circle cx="95.0" cy="209.0" r="1.75" fill="#e85235"/>
<circle cx="220.0" cy="209.0" r="1.75" fill="#e85235"/>
<circle cx="211.2" cy="208.6" r="1.75" fill="#e85235"/>
<circle cx="256.0" cy="208.5" r="1.75" fill="#e85235"/>
<circle cx="214.3" cy="208.4" r="1.75" fill="#e85235"/>
<circle cx="225.4" cy="207.9" r="1.75" fill="#e75134"/>
<circle cx="247.5" cy="207.7" r="1.75" fill="#e75134"/>
<circle cx="110.5" cy="207.7" r="1.75" fill="#e75134"/>
<circle cx="120.2" cy="207.6" r="1.75" fill="#e75134"/>
<circle cx="114.3" cy="207.6" r="1.75" fill="#e75034"/>
<circle cx="229.7" cy="207.4" r="1.75" fill="#e75034"/>
<circle cx="233.0" cy="207.0" r="1.75" fill="#e75033"/>
<circle cx="208.0" cy="207.0" r="1.75" fill="#e75033"/>
<circle cx="129.6" cy="206.7" r="1.75" fill="#e74f33"/>
<circle cx="129.2" cy="206.5" r="1.75" fill="#e74f33"/>
<circle cx="107.8" cy="206.3" r="1.75" fill="#e74f33"/>
<circle cx="103.5" cy="206.0" r="1.75" fill="#e74e32"/>
<circle cx="121.9" cy="206.0" r="1.75" fill="#e74e32"/>
<circle cx="111.6" cy="206.0" r="1.75" fill="#e74e32"/>
<circle cx="126.8" cy="205.7" r="1.75" fill="#e74e32"/>
<circle cx="242.3" cy="205.6" r="1.75" fill="#e74e32"/>
<circle cx="98.0" cy="205.5" r="1.75" fill="#e74e32"/>
<circle cx="115.0" cy="205.3" r="1.75" fill="#e74d32"/>
<circle cx="125.9" cy="205.2" r="1.75" fill="#e74d32"/>
<circle cx="220.0" cy="205.0" r="1.75" fill="#e74d32"/>
<circle cx="127.4" cy="204.3" r="1.75" fill="#e74c31"/>
<circle cx="106.0" cy="204.0" r="1.75" fill="#e64c31"/>
<circle cx="111.7" cy="204.0" r="1.75" fill="#e64c31"/>
<circle cx="110.5" cy="203.0" r="1.75" fill="#e64a30"/>
<circle cx="108.8" cy="201.5" r="1.75" fill="#e6492e"/>
<circle cx="218.0" cy="201.0" r="1.75" fill="#e6482e"/>
<circle cx="220.7" cy="200.6" r="1.75" fill="#e6472d"/>
<circle cx="225.0" cy="200.4" r="1.75" fill="#e6472d"/>
<circle cx="239.4" cy="197.3" r="1.75" fill="#e5432a"/>
<circle cx="221.6" cy="196.5" r="1.75" fill="#e5422a"/>
<circle cx="230.7" cy="196.1" r="1.75" fill="#e44129"/>
<circle cx="219.8" cy="196.0" r="1.75" fill="#e44129"/>
<circle cx="240.4" cy="193.4" r="1.75" fill="#e43e27"/>
<circle cx="229.3" cy="192.6" r="1.75" fill="#e43d26"/>
<circle cx="241.3" cy="191.6" r="1.75" fill="#e33c25"/>
<circle cx="217.8" cy="190.5" r="1.75" fill="#e33a24"/>
<circle cx="243.0" cy="189.5" r="1.75" fill="#e33924"/>
<circle cx="229.3" cy="188.1" r="1.75" fill="#e23823"/>
<circle cx="221.0" cy="187.0" r="1.75" fill="#e23722"/>
<circle cx="213.6" cy="186.5" r="1.75" fill="#e23622"/>
<circle cx="211.0" cy="184.5" r="1.75" fill="#e23421"/>
<circle cx="223.0" cy="181.5" r="1.75" fill="#e1311f"/>
<circle cx="256.7" cy="179.2" r="1.75" fill="#e02f1e"/>
<circle cx="222.4" cy="175.6" r="1.75" fill="#df2b1c"/>
<circle cx="229.5" cy="174.0" r="1.75" fill="#df2a1b"/>
<circle cx="235.6" cy="161.9" r="1.75" fill="#dc1e14"/>
<rect x="30" y="153.8" width="241" height="176.39999999999998" fill="none" stroke="#333" stroke-width="1.1"/>
<line x1="27.40" y1="323.30" x2="30.00" y2="323.30" stroke="#333" stroke-width="0.8"/>
<text x="23.40" y="325.40" font-size="5.8" text-anchor="end" fill="#333" color="#333">0</text>
<line x1="27.40" y1="275.83" x2="30.00" y2="275.83" stroke="#333" stroke-width="0.8"/>
<text x="23.40" y="277.93" font-size="5.8" text-anchor="end" fill="#333" color="#333">1</text>
<line x1="27.40" y1="228.37" x2="30.00" y2="228.37" stroke="#333" stroke-width="0.8"/>
<text x="23.40" y="230.47" font-size="5.8" text-anchor="end" fill="#333" color="#333">2</text>
<line x1="27.40" y1="180.90" x2="30.00" y2="180.90" stroke="#333" stroke-width="0.8"/>
<text x="23.40" y="183.00" font-size="5.8" text-anchor="end" fill="#333" color="#333">3</text>
<line x1="58.40" y1="330.20" x2="58.40" y2="332.80" stroke="#333" stroke-width="0.8"/>
<text x="58.40" y="342.80" font-size="5.8" text-anchor="middle" fill="#333" color="#333">−4</text>
<line x1="115.00" y1="330.20" x2="115.00" y2="332.80" stroke="#333" stroke-width="0.8"/>
<text x="115.00" y="342.80" font-size="5.8" text-anchor="middle" fill="#333" color="#333">−2</text>
<line x1="171.60" y1="330.20" x2="171.60" y2="332.80" stroke="#333" stroke-width="0.8"/>
<text x="171.60" y="342.80" font-size="5.8" text-anchor="middle" fill="#333" color="#333">0</text>
<line x1="228.20" y1="330.20" x2="228.20" y2="332.80" stroke="#333" stroke-width="0.8"/>
<text x="228.20" y="342.80" font-size="5.8" text-anchor="middle" fill="#333" color="#333">2</text>
<text x="150.50" y="354.30" font-size="5.8" text-anchor="middle" fill="#333" color="#333">lfc</text>
<text x="13.20" y="242.60" font-size="5.4" text-anchor="middle" fill="#333" color="#333" transform="rotate(-90 13.20 242.60)">-log10 <tspan font-style="italic">P</tspan>-value</text>
<defs><linearGradient id="lg" x1="0" y1="1" x2="0" y2="0"><stop offset="0" stop-color="#d8cccc"/><stop offset="0.4" stop-color="#e6a595"/><stop offset="0.7" stop-color="#e8664a"/><stop offset="1" stop-color="#e81a10"/></linearGradient></defs>
<text x="280.60" y="211.60" font-size="6.2" fill="#333" color="#333">neg_log10p</text>
<rect x="280.4" y="215.6" width="10.2" height="65.8" fill="url(#lg)" stroke="#444" stroke-width="0.8"/>
<line x1="290.60" y1="281.20" x2="293.20" y2="281.20" stroke="#444" stroke-width="0.8"/>
<text x="296.20" y="283.40" font-size="6.2" fill="#333" color="#333">0</text>
<line x1="290.60" y1="261.55" x2="293.20" y2="261.55" stroke="#444" stroke-width="0.8"/>
<text x="296.20" y="263.75" font-size="6.2" fill="#333" color="#333">1</text>
<line x1="290.60" y1="241.90" x2="293.20" y2="241.90" stroke="#444" stroke-width="0.8"/>
<text x="296.20" y="244.10" font-size="6.2" fill="#333" color="#333">2</text>
<line x1="290.60" y1="222.25" x2="293.20" y2="222.25" stroke="#444" stroke-width="0.8"/>
<text x="296.20" y="224.45" font-size="6.2" fill="#333" color="#333">3</text>
<rect x="44.30" y="440.12" width="12.40" height="1.18" fill="#e6e6ea"/>
<rect x="63.60" y="436.89" width="12.40" height="4.41" fill="#a3a4b3"/>
<rect x="82.90" y="415.56" width="12.40" height="25.74" fill="#f3b8ae"/>
<rect x="82.40" y="421.10" width="13.40" height="4.80" fill="#fff"/>
<rect x="102.20" y="417.48" width="12.40" height="23.82" fill="#c8102e"/>
<rect x="101.70" y="421.10" width="13.40" height="4.80" fill="#fff"/>
<line x1="69.80" y1="434.54" x2="69.80" y2="439.24" stroke="#111" stroke-width="0.8"/>
<line x1="66.60" y1="434.54" x2="73.00" y2="434.54" stroke="#111" stroke-width="0.8"/>
<line x1="66.60" y1="439.24" x2="73.00" y2="439.24" stroke="#111" stroke-width="0.8"/>
<circle cx="69.80" cy="432.48" r="1.15" fill="#111"/>
<circle cx="67.80" cy="434.54" r="1.15" fill="#111"/>
<circle cx="71.80" cy="436.89" r="1.15" fill="#111"/>
<circle cx="69.80" cy="438.65" r="1.15" fill="#111"/>
<circle cx="68.80" cy="439.83" r="1.15" fill="#111"/>
<line x1="89.10" y1="412.10" x2="89.10" y2="419.02" stroke="#111" stroke-width="0.8"/>
<line x1="85.90" y1="412.10" x2="92.30" y2="412.10" stroke="#111" stroke-width="0.8"/>
<line x1="85.90" y1="419.02" x2="92.30" y2="419.02" stroke="#111" stroke-width="0.8"/>
<circle cx="89.10" cy="403.25" r="1.15" fill="#111"/>
<circle cx="89.10" cy="416.71" r="1.15" fill="#111"/>
<line x1="108.40" y1="414.79" x2="108.40" y2="420.17" stroke="#111" stroke-width="0.8"/>
<line x1="105.20" y1="414.79" x2="111.60" y2="414.79" stroke="#111" stroke-width="0.8"/>
<line x1="105.20" y1="420.17" x2="111.60" y2="420.17" stroke="#111" stroke-width="0.8"/>
<circle cx="108.40" cy="406.33" r="1.15" fill="#111"/>
<circle cx="108.40" cy="433.66" r="1.15" fill="#111"/>
<circle cx="108.40" cy="419.02" r="1.15" fill="#111"/>
<line x1="37.30" y1="383.50" x2="37.30" y2="441.75" stroke="#222" stroke-width="0.9"/>
<line x1="36.85" y1="441.30" x2="120.50" y2="441.30" stroke="#222" stroke-width="0.9"/>
<line x1="34.70" y1="441.30" x2="37.30" y2="441.30" stroke="#222" stroke-width="0.8"/>
<text x="31.10" y="443.53" font-size="6.2" text-anchor="end" fill="#333" color="#333">0</text>
<line x1="34.70" y1="426.60" x2="37.30" y2="426.60" stroke="#222" stroke-width="0.8"/>
<text x="31.10" y="428.83" font-size="6.2" text-anchor="end" fill="#333" color="#333">5</text>
<line x1="34.70" y1="419.40" x2="37.30" y2="419.40" stroke="#222" stroke-width="0.8"/>
<text x="31.10" y="421.63" font-size="6.2" text-anchor="end" fill="#333" color="#333">10</text>
<line x1="34.70" y1="407.87" x2="37.30" y2="407.87" stroke="#222" stroke-width="0.8"/>
<text x="31.10" y="410.10" font-size="6.2" text-anchor="end" fill="#333" color="#333">40</text>
<line x1="34.70" y1="396.33" x2="37.30" y2="396.33" stroke="#222" stroke-width="0.8"/>
<text x="31.10" y="398.57" font-size="6.2" text-anchor="end" fill="#333" color="#333">70</text>
<line x1="34.70" y1="384.80" x2="37.30" y2="384.80" stroke="#222" stroke-width="0.8"/>
<text x="31.10" y="387.03" font-size="6.2" text-anchor="end" fill="#333" color="#333">100</text>
<line x1="50.50" y1="441.30" x2="50.50" y2="443.50" stroke="#222" stroke-width="0.8"/>
<line x1="69.80" y1="441.30" x2="69.80" y2="443.50" stroke="#222" stroke-width="0.8"/>
<line x1="89.10" y1="441.30" x2="89.10" y2="443.50" stroke="#222" stroke-width="0.8"/>
<line x1="108.40" y1="441.30" x2="108.40" y2="443.50" stroke="#222" stroke-width="0.8"/>
<text x="15.10" y="412.00" font-size="5.0" text-anchor="middle" fill="#333" color="#333" transform="rotate(-90 15.10 412.00)">PDI (fold change)</text>
<text x="54.50" y="453.30" font-size="6.35" text-anchor="end" fill="#333" color="#333" transform="rotate(-45 54.50 453.30)">Rest ERp5<tspan font-size="3.4" dy="-3.2">fl/fl</tspan></text>
<text x="73.80" y="453.30" font-size="6.35" text-anchor="end" fill="#333" color="#333" transform="rotate(-45 73.80 453.30)">IIx ERp5<tspan font-size="3.4" dy="-3.2">fl/fl</tspan></text>
<text x="93.10" y="453.30" font-size="6.35" text-anchor="end" fill="#333" color="#333" transform="rotate(-45 93.10 453.30)">Rest Pf4Cre+/ERp5<tspan font-size="3.4" dy="-3.2">fl/fl</tspan></text>
<text x="112.40" y="453.30" font-size="6.35" text-anchor="end" fill="#333" color="#333" transform="rotate(-45 112.40 453.30)">IIx Pf4Cre+/ERp5<tspan font-size="3.4" dy="-3.2">fl/fl</tspan></text>
<polyline points="50.50,391.00 50.50,383.70 108.40,383.70 108.40,398.50" fill="none" stroke="#3a3a3a" stroke-width="0.95"/>
<text x="79.45" y="383.40" font-size="6.2" text-anchor="middle" fill="#333" color="#333">*</text>
<polyline points="50.50,435.00 50.50,396.10 89.10,396.10 89.10,401.00" fill="none" stroke="#3a3a3a" stroke-width="0.95"/>
<text x="69.80" y="395.80" font-size="6.2" text-anchor="middle" fill="#333" color="#333">*</text>
<rect x="35.30" y="421.30" width="4.00" height="4.30" fill="#fff"/>
<line x1="35.10" y1="422.50" x2="39.50" y2="419.50" stroke="#222" stroke-width="0.8"/>
<line x1="35.10" y1="427.40" x2="39.50" y2="424.40" stroke="#222" stroke-width="0.8"/>
<rect x="163.75" y="438.42" width="12.50" height="2.83" fill="#e6e6ea"/>
<rect x="182.50" y="434.37" width="12.50" height="6.88" fill="#a3a4b3"/>
<rect x="201.75" y="412.09" width="12.50" height="29.16" fill="#f3b8ae"/>
<rect x="221.25" y="415.74" width="12.50" height="25.51" fill="#c8102e"/>
<line x1="188.75" y1="431.53" x2="188.75" y2="437.20" stroke="#111" stroke-width="0.8"/>
<line x1="185.55" y1="431.53" x2="191.95" y2="431.53" stroke="#111" stroke-width="0.8"/>
<line x1="185.55" y1="437.20" x2="191.95" y2="437.20" stroke="#111" stroke-width="0.8"/>
<circle cx="188.75" cy="427.07" r="1.15" fill="#111"/>
<circle cx="186.75" cy="433.15" r="1.15" fill="#111"/>
<circle cx="190.75" cy="435.18" r="1.15" fill="#111"/>
<circle cx="188.75" cy="438.01" r="1.15" fill="#111"/>
<line x1="208.00" y1="404.80" x2="208.00" y2="419.38" stroke="#111" stroke-width="0.8"/>
<line x1="204.80" y1="404.80" x2="211.20" y2="404.80" stroke="#111" stroke-width="0.8"/>
<line x1="204.80" y1="419.38" x2="211.20" y2="419.38" stroke="#111" stroke-width="0.8"/>
<circle cx="208.00" cy="394.27" r="1.15" fill="#111"/>
<circle cx="208.00" cy="415.74" r="1.15" fill="#111"/>
<circle cx="208.00" cy="419.79" r="1.15" fill="#111"/>
<circle cx="208.00" cy="423.02" r="1.15" fill="#111"/>
<line x1="227.50" y1="407.63" x2="227.50" y2="423.83" stroke="#111" stroke-width="0.8"/>
<line x1="224.30" y1="407.63" x2="230.70" y2="407.63" stroke="#111" stroke-width="0.8"/>
<line x1="224.30" y1="423.83" x2="230.70" y2="423.83" stroke="#111" stroke-width="0.8"/>
<circle cx="225.00" cy="402.77" r="1.15" fill="#111"/>
<circle cx="230.00" cy="402.77" r="1.15" fill="#111"/>
<circle cx="227.50" cy="419.38" r="1.15" fill="#111"/>
<circle cx="227.50" cy="430.72" r="1.15" fill="#111"/>
<line x1="157.00" y1="379.50" x2="157.00" y2="441.70" stroke="#222" stroke-width="0.9"/>
<line x1="156.55" y1="441.25" x2="241.25" y2="441.25" stroke="#222" stroke-width="0.9"/>
<line x1="154.40" y1="441.25" x2="157.00" y2="441.25" stroke="#222" stroke-width="0.8"/>
<text x="150.80" y="443.48" font-size="6.2" text-anchor="end" fill="#333" color="#333">0</text>
<line x1="154.40" y1="421.00" x2="157.00" y2="421.00" stroke="#222" stroke-width="0.8"/>
<text x="150.80" y="423.23" font-size="6.2" text-anchor="end" fill="#333" color="#333">5</text>
<line x1="154.40" y1="400.75" x2="157.00" y2="400.75" stroke="#222" stroke-width="0.8"/>
<text x="150.80" y="402.98" font-size="6.2" text-anchor="end" fill="#333" color="#333">10</text>
<line x1="154.40" y1="380.50" x2="157.00" y2="380.50" stroke="#222" stroke-width="0.8"/>
<text x="150.80" y="382.73" font-size="6.2" text-anchor="end" fill="#333" color="#333">15</text>
<line x1="170.00" y1="441.25" x2="170.00" y2="443.45" stroke="#222" stroke-width="0.8"/>
<line x1="188.75" y1="441.25" x2="188.75" y2="443.45" stroke="#222" stroke-width="0.8"/>
<line x1="208.00" y1="441.25" x2="208.00" y2="443.45" stroke="#222" stroke-width="0.8"/>
<line x1="227.50" y1="441.25" x2="227.50" y2="443.45" stroke="#222" stroke-width="0.8"/>
<text x="137.80" y="409.80" font-size="5.0" text-anchor="middle" fill="#333" color="#333" transform="rotate(-90 137.80 409.80)">ERp57 (fold change)</text>
<text x="174.00" y="453.25" font-size="6.35" text-anchor="end" fill="#333" color="#333" transform="rotate(-45 174.00 453.25)">Rest ERp5<tspan font-size="3.4" dy="-3.2">fl/fl</tspan></text>
<text x="192.75" y="453.25" font-size="6.35" text-anchor="end" fill="#333" color="#333" transform="rotate(-45 192.75 453.25)">IIx ERp5<tspan font-size="3.4" dy="-3.2">fl/fl</tspan></text>
<text x="212.00" y="453.25" font-size="6.35" text-anchor="end" fill="#333" color="#333" transform="rotate(-45 212.00 453.25)">Rest Pf4Cre+/ERp5<tspan font-size="3.4" dy="-3.2">fl/fl</tspan></text>
<text x="231.50" y="453.25" font-size="6.35" text-anchor="end" fill="#333" color="#333" transform="rotate(-45 231.50 453.25)">IIx Pf4Cre+/ERp5<tspan font-size="3.4" dy="-3.2">fl/fl</tspan></text>
<polyline points="170.00,437.00 170.00,387.00 208.00,387.00 208.00,392.50" fill="none" stroke="#3a3a3a" stroke-width="0.95"/>
<text x="189.00" y="386.70" font-size="6.2" text-anchor="middle" fill="#333" color="#333">*</text>
<rect x="305.00" y="437.24" width="12.50" height="4.01" fill="#a3a4b3"/>
<rect x="324.25" y="406.42" width="12.50" height="34.83" fill="#f3b8ae"/>
<rect x="323.75" y="419.40" width="13.50" height="4.60" fill="#fff"/>
<rect x="343.75" y="409.67" width="12.50" height="31.58" fill="#c8102e"/>
<rect x="343.25" y="419.40" width="13.50" height="4.60" fill="#fff"/>
<line x1="311.25" y1="435.41" x2="311.25" y2="439.06" stroke="#111" stroke-width="0.8"/>
<line x1="308.05" y1="435.41" x2="314.45" y2="435.41" stroke="#111" stroke-width="0.8"/>
<line x1="308.05" y1="439.06" x2="314.45" y2="439.06" stroke="#111" stroke-width="0.8"/>
<circle cx="311.25" cy="433.40" r="1.15" fill="#111"/>
<circle cx="309.25" cy="435.77" r="1.15" fill="#111"/>
<circle cx="313.25" cy="437.24" r="1.15" fill="#111"/>
<circle cx="311.25" cy="439.06" r="1.15" fill="#111"/>
<line x1="330.50" y1="398.18" x2="330.50" y2="414.65" stroke="#111" stroke-width="0.8"/>
<line x1="327.30" y1="398.18" x2="333.70" y2="398.18" stroke="#111" stroke-width="0.8"/>
<line x1="327.30" y1="414.65" x2="333.70" y2="414.65" stroke="#111" stroke-width="0.8"/>
<circle cx="330.50" cy="390.38" r="1.15" fill="#111"/>
<circle cx="330.50" cy="398.62" r="1.15" fill="#111"/>
<circle cx="330.50" cy="408.58" r="1.15" fill="#111"/>
<circle cx="330.50" cy="428.48" r="1.15" fill="#111"/>
<line x1="350.00" y1="403.17" x2="350.00" y2="416.17" stroke="#111" stroke-width="0.8"/>
<line x1="346.80" y1="403.17" x2="353.20" y2="403.17" stroke="#111" stroke-width="0.8"/>
<line x1="346.80" y1="416.17" x2="353.20" y2="416.17" stroke="#111" stroke-width="0.8"/>
<circle cx="350.00" cy="392.98" r="1.15" fill="#111"/>
<circle cx="350.00" cy="406.42" r="1.15" fill="#111"/>
<circle cx="350.00" cy="431.39" r="1.15" fill="#111"/>
<line x1="279.50" y1="377.50" x2="279.50" y2="441.70" stroke="#222" stroke-width="0.9"/>
<line x1="279.05" y1="441.25" x2="365.00" y2="441.25" stroke="#222" stroke-width="0.9"/>
<line x1="276.90" y1="441.25" x2="279.50" y2="441.25" stroke="#222" stroke-width="0.8"/>
<text x="273.30" y="443.48" font-size="6.2" text-anchor="end" fill="#333" color="#333">0</text>
<line x1="276.90" y1="432.12" x2="279.50" y2="432.12" stroke="#222" stroke-width="0.8"/>
<text x="273.30" y="434.36" font-size="6.2" text-anchor="end" fill="#333" color="#333">5</text>
<line x1="276.90" y1="423.00" x2="279.50" y2="423.00" stroke="#222" stroke-width="0.8"/>
<text x="273.30" y="425.23" font-size="6.2" text-anchor="end" fill="#333" color="#333">10</text>
<line x1="276.90" y1="410.75" x2="279.50" y2="410.75" stroke="#222" stroke-width="0.8"/>
<text x="273.30" y="412.98" font-size="6.2" text-anchor="end" fill="#333" color="#333">50</text>
<line x1="276.90" y1="399.92" x2="279.50" y2="399.92" stroke="#222" stroke-width="0.8"/>
<text x="273.30" y="402.15" font-size="6.2" text-anchor="end" fill="#333" color="#333">100</text>
<line x1="276.90" y1="389.08" x2="279.50" y2="389.08" stroke="#222" stroke-width="0.8"/>
<text x="273.30" y="391.32" font-size="6.2" text-anchor="end" fill="#333" color="#333">150</text>
<line x1="276.90" y1="378.25" x2="279.50" y2="378.25" stroke="#222" stroke-width="0.8"/>
<text x="273.30" y="380.48" font-size="6.2" text-anchor="end" fill="#333" color="#333">200</text>
<line x1="292.50" y1="441.25" x2="292.50" y2="443.45" stroke="#222" stroke-width="0.8"/>
<line x1="311.25" y1="441.25" x2="311.25" y2="443.45" stroke="#222" stroke-width="0.8"/>
<line x1="330.50" y1="441.25" x2="330.50" y2="443.45" stroke="#222" stroke-width="0.8"/>
<line x1="350.00" y1="441.25" x2="350.00" y2="443.45" stroke="#222" stroke-width="0.8"/>
<text x="255.80" y="408.00" font-size="5.0" text-anchor="middle" fill="#333" color="#333" transform="rotate(-90 255.80 408.00)">ERp72 (fold change)</text>
<text x="296.50" y="453.25" font-size="6.35" text-anchor="end" fill="#333" color="#333" transform="rotate(-45 296.50 453.25)">Rest ERp5<tspan font-size="3.4" dy="-3.2">fl/fl</tspan></text>
<text x="315.25" y="453.25" font-size="6.35" text-anchor="end" fill="#333" color="#333" transform="rotate(-45 315.25 453.25)">IIx ERp5<tspan font-size="3.4" dy="-3.2">fl/fl</tspan></text>
<text x="334.50" y="453.25" font-size="6.35" text-anchor="end" fill="#333" color="#333" transform="rotate(-45 334.50 453.25)">Rest Pf4Cre+/ERp5<tspan font-size="3.4" dy="-3.2">fl/fl</tspan></text>
<text x="354.00" y="453.25" font-size="6.35" text-anchor="end" fill="#333" color="#333" transform="rotate(-45 354.00 453.25)">IIx Pf4Cre+/ERp5<tspan font-size="3.4" dy="-3.2">fl/fl</tspan></text>
<polyline points="292.50,378.30 292.50,369.30 350.00,369.30 350.00,373.50" fill="none" stroke="#3a3a3a" stroke-width="0.95"/>
<text x="321.25" y="369.00" font-size="6.2" text-anchor="middle" fill="#333" color="#333">*</text>
<polyline points="292.50,438.00 292.50,382.50 330.50,382.50 330.50,386.00" fill="none" stroke="#3a3a3a" stroke-width="0.95"/>
<text x="311.50" y="382.20" font-size="6.2" text-anchor="middle" fill="#333" color="#333">*</text>
<rect x="277.50" y="419.40" width="4.00" height="4.60" fill="#fff"/>
<line x1="277.30" y1="420.60" x2="281.70" y2="417.60" stroke="#222" stroke-width="0.8"/>
<line x1="277.30" y1="425.80" x2="281.70" y2="422.80" stroke="#222" stroke-width="0.8"/>
<rect x="432.00" y="211.52" width="18.00" height="13.68" fill="#a3a4b3"/>
<rect x="457.85" y="186.90" width="17.50" height="38.30" fill="#c8102e"/>
<line x1="466.60" y1="177.32" x2="466.60" y2="196.47" stroke="#111" stroke-width="0.8"/>
<line x1="462.60" y1="177.32" x2="470.60" y2="177.32" stroke="#111" stroke-width="0.8"/>
<line x1="462.60" y1="196.47" x2="470.60" y2="196.47" stroke="#111" stroke-width="0.8"/>
<circle cx="466.60" cy="166.38" r="1.15" fill="#111"/>
<circle cx="466.60" cy="177.32" r="1.15" fill="#111"/>
<circle cx="466.60" cy="196.47" r="1.15" fill="#111"/>
<circle cx="466.60" cy="206.05" r="1.15" fill="#111"/>
<line x1="423.40" y1="155.80" x2="423.40" y2="225.65" stroke="#222" stroke-width="0.9"/>
<line x1="422.95" y1="225.20" x2="478.20" y2="225.20" stroke="#222" stroke-width="0.9"/>
<line x1="420.80" y1="225.20" x2="423.40" y2="225.20" stroke="#222" stroke-width="0.8"/>
<text x="417.20" y="227.43" font-size="6.2" text-anchor="end" fill="#333" color="#333">0</text>
<line x1="420.80" y1="211.52" x2="423.40" y2="211.52" stroke="#222" stroke-width="0.8"/>
<text x="417.20" y="213.75" font-size="6.2" text-anchor="end" fill="#333" color="#333">1</text>
<line x1="420.80" y1="197.84" x2="423.40" y2="197.84" stroke="#222" stroke-width="0.8"/>
<text x="417.20" y="200.07" font-size="6.2" text-anchor="end" fill="#333" color="#333">2</text>
<line x1="420.80" y1="184.16" x2="423.40" y2="184.16" stroke="#222" stroke-width="0.8"/>
<text x="417.20" y="186.39" font-size="6.2" text-anchor="end" fill="#333" color="#333">3</text>
<line x1="420.80" y1="170.48" x2="423.40" y2="170.48" stroke="#222" stroke-width="0.8"/>
<text x="417.20" y="172.71" font-size="6.2" text-anchor="end" fill="#333" color="#333">4</text>
<line x1="420.80" y1="156.80" x2="423.40" y2="156.80" stroke="#222" stroke-width="0.8"/>
<text x="417.20" y="159.03" font-size="6.2" text-anchor="end" fill="#333" color="#333">5</text>
<line x1="441.00" y1="225.20" x2="441.00" y2="227.40" stroke="#222" stroke-width="0.8"/>
<line x1="466.60" y1="225.20" x2="466.60" y2="227.40" stroke="#222" stroke-width="0.8"/>
<text x="409.30" y="192.60" font-size="5.0" text-anchor="middle" fill="#333" color="#333" transform="rotate(-90 409.30 192.60)">PDI (fold change)</text>
<text x="445.00" y="237.20" font-size="6.35" text-anchor="end" fill="#333" color="#333" transform="rotate(-45 445.00 237.20)">ERp5<tspan font-size="3.4" dy="-3.2">fl/fl</tspan></text>
<text x="470.60" y="237.20" font-size="6.35" text-anchor="end" fill="#333" color="#333" transform="rotate(-45 470.60 237.20)">Pf4Cre+/ERp5<tspan font-size="3.4" dy="-3.2">fl/fl</tspan></text>
<polyline points="440.70,202.00 440.70,158.30 466.60,158.30 466.60,161.70" fill="none" stroke="#3a3a3a" stroke-width="0.95"/>
<text x="453.65" y="158.00" font-size="6.2" text-anchor="middle" fill="#333" color="#333">*</text>
<rect x="432.00" y="336.88" width="14.40" height="26.32" fill="#a3a4b3"/>
<rect x="454.50" y="320.56" width="15.00" height="42.64" fill="#c8102e"/>
<line x1="462.00" y1="312.67" x2="462.00" y2="328.46" stroke="#111" stroke-width="0.8"/>
<line x1="458.00" y1="312.67" x2="466.00" y2="312.67" stroke="#111" stroke-width="0.8"/>
<line x1="458.00" y1="328.46" x2="466.00" y2="328.46" stroke="#111" stroke-width="0.8"/>
<circle cx="459.50" cy="311.35" r="1.15" fill="#111"/>
<circle cx="464.50" cy="311.35" r="1.15" fill="#111"/>
<circle cx="462.00" cy="317.14" r="1.15" fill="#111"/>
<circle cx="459.50" cy="321.61" r="1.15" fill="#111"/>
<circle cx="464.50" cy="323.72" r="1.15" fill="#111"/>
<circle cx="462.00" cy="328.98" r="1.15" fill="#111"/>
<circle cx="462.00" cy="331.62" r="1.15" fill="#111"/>
<line x1="422.80" y1="296.40" x2="422.80" y2="363.65" stroke="#222" stroke-width="0.9"/>
<line x1="422.35" y1="363.20" x2="478.00" y2="363.20" stroke="#222" stroke-width="0.9"/>
<line x1="420.20" y1="363.20" x2="422.80" y2="363.20" stroke="#222" stroke-width="0.8"/>
<text x="416.60" y="365.43" font-size="6.2" text-anchor="end" fill="#333" color="#333">0.0</text>
<line x1="420.20" y1="350.04" x2="422.80" y2="350.04" stroke="#222" stroke-width="0.8"/>
<text x="416.60" y="352.27" font-size="6.2" text-anchor="end" fill="#333" color="#333">0.5</text>
<line x1="420.20" y1="336.88" x2="422.80" y2="336.88" stroke="#222" stroke-width="0.8"/>
<text x="416.60" y="339.11" font-size="6.2" text-anchor="end" fill="#333" color="#333">1.0</text>
<line x1="420.20" y1="323.72" x2="422.80" y2="323.72" stroke="#222" stroke-width="0.8"/>
<text x="416.60" y="325.95" font-size="6.2" text-anchor="end" fill="#333" color="#333">1.5</text>
<line x1="420.20" y1="310.56" x2="422.80" y2="310.56" stroke="#222" stroke-width="0.8"/>
<text x="416.60" y="312.79" font-size="6.2" text-anchor="end" fill="#333" color="#333">2.0</text>
<line x1="420.20" y1="297.40" x2="422.80" y2="297.40" stroke="#222" stroke-width="0.8"/>
<text x="416.60" y="299.63" font-size="6.2" text-anchor="end" fill="#333" color="#333">2.5</text>
<line x1="439.20" y1="363.20" x2="439.20" y2="365.40" stroke="#222" stroke-width="0.8"/>
<line x1="462.00" y1="363.20" x2="462.00" y2="365.40" stroke="#222" stroke-width="0.8"/>
<text x="393.40" y="330.00" font-size="5.0" text-anchor="middle" fill="#333" color="#333" transform="rotate(-90 393.40 330.00)">Fluorescence intensity</text>
<text x="404.10" y="330.00" font-size="5.0" text-anchor="middle" fill="#333" color="#333" transform="rotate(-90 404.10 330.00)">(fold change)</text>
<text x="443.20" y="375.20" font-size="6.35" text-anchor="end" fill="#333" color="#333" transform="rotate(-45 443.20 375.20)">ERp5<tspan font-size="3.4" dy="-3.2">fl/fl</tspan></text>
<text x="466.00" y="375.20" font-size="6.35" text-anchor="end" fill="#333" color="#333" transform="rotate(-45 466.00 375.20)">Pf4Cre+/ERp5<tspan font-size="3.4" dy="-3.2">fl/fl</tspan></text>
<polyline points="439.20,330.60 439.20,304.00 462.00,304.00 462.00,306.50" fill="none" stroke="#3a3a3a" stroke-width="0.95"/>
<text x="450.60" y="303.70" font-size="6.2" text-anchor="middle" fill="#333" color="#333">*</text>
<text x="42.40" y="542.60" font-size="6.5" text-anchor="middle" fill="#222" color="#222">ERp5<tspan font-size="3.4" dy="-3.2">fl/fl</tspan></text>
<line x1="22.30" y1="546.50" x2="61.90" y2="546.50" stroke="#222" stroke-width="0.95"/>
<text x="95.00" y="542.60" font-size="6.5" text-anchor="middle" fill="#222" color="#222">Pf4Cre+ERp5<tspan font-size="3.4" dy="-3.2">fl/fl</tspan></text>
<line x1="72.20" y1="546.50" x2="117.70" y2="546.50" stroke="#222" stroke-width="0.95"/>
<text x="35.60" y="555.70" font-size="6.5" text-anchor="middle" fill="#222" color="#222">Rest</text>
<text x="62.50" y="555.70" font-size="6.5" text-anchor="middle" fill="#222" color="#222">IIx</text>
<text x="85.60" y="555.70" font-size="6.5" text-anchor="middle" fill="#222" color="#222">Rest</text>
<text x="114.40" y="555.70" font-size="6.5" text-anchor="middle" fill="#222" color="#222">IIx</text>
<text x="16.40" y="576.90" font-size="6.5" text-anchor="end" fill="#222" color="#222">TSP1</text>
<text x="16.60" y="600.70" font-size="6.5" text-anchor="end" fill="#222" color="#222">PF4</text>
<text x="123.30" y="567.00" font-size="6.5" fill="#222" color="#222">kDa</text>
<text x="123.30" y="578.00" font-size="6.5" fill="#222" color="#222">150</text>
<text x="123.30" y="598.10" font-size="6.5" fill="#222" color="#222">8</text>
<rect x="22.00" y="566.50" width="98.00" height="14.00" fill="#fbfbfb"/>
<rect x="25.40" y="571.70" width="15.00" height="2.00" rx="1.00" fill="#e6e6e6" opacity="1" filter="url(#bl2)"/>
<rect x="73.80" y="572.50" width="15.00" height="2.00" rx="1.00" fill="#e8e8e8" opacity="1" filter="url(#bl2)"/>
<rect x="49.60" y="571.00" width="18.50" height="4.40" rx="2.20" fill="#0a0a0a" opacity="1" filter="url(#bl1)"/>
<rect x="99.20" y="572.10" width="18.50" height="4.40" rx="2.20" fill="#0a0a0a" opacity="1" filter="url(#bl1)"/>
<rect x="19.70" y="587.90" width="100.30" height="16.10" fill="#ececec"/>
<rect x="19.70" y="587.90" width="26.50" height="16.10" fill="#e9e9e9"/>
<rect x="69.20" y="587.90" width="3.50" height="16.10" fill="#f2f2f2"/>
<rect x="46.20" y="592.55" width="21.90" height="6.50" rx="3.00" fill="#2e2e2e" opacity="1" filter="url(#bl2)"/>
<rect x="47.00" y="599.00" width="20.50" height="3.00" rx="1.50" fill="#555" opacity="1" filter="url(#bl2)"/>
<rect x="75.00" y="595.00" width="16.20" height="4.00" rx="2.00" fill="#cdcdcd" opacity="1" filter="url(#bl2)"/>
<rect x="95.80" y="594.25" width="21.90" height="7.50" rx="3.00" fill="#0e0e0e" opacity="1" filter="url(#bl2)"/>
<rect x="173.55" y="589.64" width="9.50" height="1.36" fill="#111"/>
<rect x="186.75" y="574.05" width="9.50" height="16.95" fill="#a3a4b3"/>
<rect x="200.65" y="566.59" width="9.50" height="24.41" fill="#f3b8ae"/>
<rect x="214.45" y="553.71" width="9.50" height="37.29" fill="#c8102e"/>
<circle cx="175.30" cy="589.64" r="1.15" fill="#111"/>
<circle cx="177.30" cy="589.64" r="1.15" fill="#111"/>
<circle cx="179.30" cy="589.64" r="1.15" fill="#111"/>
<circle cx="181.30" cy="589.64" r="1.15" fill="#111"/>
<line x1="191.50" y1="566.86" x2="191.50" y2="581.24" stroke="#111" stroke-width="0.8"/>
<line x1="188.65" y1="566.86" x2="194.35" y2="566.86" stroke="#111" stroke-width="0.8"/>
<line x1="188.65" y1="581.24" x2="194.35" y2="581.24" stroke="#111" stroke-width="0.8"/>
<circle cx="191.50" cy="553.03" r="1.15" fill="#111"/>
<circle cx="191.50" cy="575.41" r="1.15" fill="#111"/>
<circle cx="190.50" cy="581.51" r="1.15" fill="#111"/>
<circle cx="192.50" cy="585.30" r="1.15" fill="#111"/>
<line x1="205.40" y1="557.10" x2="205.40" y2="576.08" stroke="#111" stroke-width="0.8"/>
<line x1="202.55" y1="557.10" x2="208.25" y2="557.10" stroke="#111" stroke-width="0.8"/>
<line x1="202.55" y1="576.08" x2="208.25" y2="576.08" stroke="#111" stroke-width="0.8"/>
<circle cx="205.40" cy="541.51" r="1.15" fill="#111"/>
<circle cx="202.90" cy="564.56" r="1.15" fill="#111"/>
<circle cx="207.40" cy="567.27" r="1.15" fill="#111"/>
<circle cx="205.40" cy="579.47" r="1.15" fill="#111"/>
<line x1="219.20" y1="544.22" x2="219.20" y2="563.20" stroke="#111" stroke-width="0.8"/>
<line x1="216.35" y1="544.22" x2="222.05" y2="544.22" stroke="#111" stroke-width="0.8"/>
<line x1="216.35" y1="563.20" x2="222.05" y2="563.20" stroke="#111" stroke-width="0.8"/>
<circle cx="219.20" cy="534.05" r="1.15" fill="#111"/>
<circle cx="219.20" cy="545.57" r="1.15" fill="#111"/>
<circle cx="219.20" cy="557.10" r="1.15" fill="#111"/>
<circle cx="219.20" cy="579.47" r="1.15" fill="#111"/>
<line x1="170.00" y1="522.20" x2="170.00" y2="591.45" stroke="#222" stroke-width="0.9"/>
<line x1="169.55" y1="591.00" x2="227.00" y2="591.00" stroke="#222" stroke-width="0.9"/>
<line x1="167.40" y1="591.00" x2="170.00" y2="591.00" stroke="#222" stroke-width="0.8"/>
<text x="163.80" y="593.23" font-size="6.2" text-anchor="end" fill="#333" color="#333">0</text>
<line x1="167.40" y1="577.44" x2="170.00" y2="577.44" stroke="#222" stroke-width="0.8"/>
<text x="163.80" y="579.67" font-size="6.2" text-anchor="end" fill="#333" color="#333">10</text>
<line x1="167.40" y1="563.88" x2="170.00" y2="563.88" stroke="#222" stroke-width="0.8"/>
<text x="163.80" y="566.11" font-size="6.2" text-anchor="end" fill="#333" color="#333">20</text>
<line x1="167.40" y1="550.32" x2="170.00" y2="550.32" stroke="#222" stroke-width="0.8"/>
<text x="163.80" y="552.55" font-size="6.2" text-anchor="end" fill="#333" color="#333">30</text>
<line x1="167.40" y1="536.76" x2="170.00" y2="536.76" stroke="#222" stroke-width="0.8"/>
<text x="163.80" y="538.99" font-size="6.2" text-anchor="end" fill="#333" color="#333">40</text>
<line x1="167.40" y1="523.20" x2="170.00" y2="523.20" stroke="#222" stroke-width="0.8"/>
<text x="163.80" y="525.43" font-size="6.2" text-anchor="end" fill="#333" color="#333">50</text>
<line x1="178.30" y1="591.00" x2="178.30" y2="593.20" stroke="#222" stroke-width="0.8"/>
<line x1="191.50" y1="591.00" x2="191.50" y2="593.20" stroke="#222" stroke-width="0.8"/>
<line x1="205.40" y1="591.00" x2="205.40" y2="593.20" stroke="#222" stroke-width="0.8"/>
<line x1="219.20" y1="591.00" x2="219.20" y2="593.20" stroke="#222" stroke-width="0.8"/>
<text x="150.30" y="556.00" font-size="5.0" text-anchor="middle" fill="#333" color="#333" transform="rotate(-90 150.30 556.00)">PF4 (fold change)</text>
<text x="182.30" y="603.00" font-size="6.35" text-anchor="end" fill="#333" color="#333" transform="rotate(-45 182.30 603.00)">Rest ERp5<tspan font-size="3.4" dy="-3.2">fl/fl</tspan></text>
<text x="195.50" y="603.00" font-size="6.35" text-anchor="end" fill="#333" color="#333" transform="rotate(-45 195.50 603.00)">IIx ERp5<tspan font-size="3.4" dy="-3.2">fl/fl</tspan></text>
<text x="209.40" y="603.00" font-size="6.35" text-anchor="end" fill="#333" color="#333" transform="rotate(-45 209.40 603.00)">Rest Pf4Cre+/ERp5<tspan font-size="3.4" dy="-3.2">fl/fl</tspan></text>
<text x="223.20" y="603.00" font-size="6.35" text-anchor="end" fill="#333" color="#333" transform="rotate(-45 223.20 603.00)">IIx Pf4Cre+/ERp5<tspan font-size="3.4" dy="-3.2">fl/fl</tspan></text>
<polyline points="178.30,587.50 178.30,526.00 219.20,526.00 219.20,529.50" fill="none" stroke="#3a3a3a" stroke-width="0.95"/>
<text x="198.75" y="525.70" font-size="6.2" text-anchor="middle" fill="#333" color="#333">**</text>
<rect x="263.05" y="589.65" width="9.50" height="1.35" fill="#111"/>
<rect x="276.05" y="568.39" width="9.50" height="22.61" fill="#a3a4b3"/>
<rect x="288.95" y="587.63" width="9.50" height="3.37" fill="#f3b8ae"/>
<rect x="301.55" y="565.43" width="9.50" height="25.57" fill="#c8102e"/>
<circle cx="264.80" cy="589.65" r="1.15" fill="#111"/>
<circle cx="266.80" cy="589.65" r="1.15" fill="#111"/>
<circle cx="268.80" cy="589.65" r="1.15" fill="#111"/>
<circle cx="270.80" cy="589.65" r="1.15" fill="#111"/>
<line x1="280.80" y1="561.93" x2="280.80" y2="574.85" stroke="#111" stroke-width="0.8"/>
<line x1="277.95" y1="561.93" x2="283.65" y2="561.93" stroke="#111" stroke-width="0.8"/>
<line x1="277.95" y1="574.85" x2="283.65" y2="574.85" stroke="#111" stroke-width="0.8"/>
<circle cx="280.80" cy="549.95" r="1.15" fill="#111"/>
<circle cx="280.80" cy="562.06" r="1.15" fill="#111"/>
<circle cx="279.80" cy="569.46" r="1.15" fill="#111"/>
<circle cx="280.80" cy="574.85" r="1.15" fill="#111"/>
<circle cx="281.80" cy="582.25" r="1.15" fill="#111"/>
<line x1="293.70" y1="584.67" x2="293.70" y2="590.60" stroke="#111" stroke-width="0.8"/>
<line x1="290.85" y1="584.67" x2="296.55" y2="584.67" stroke="#111" stroke-width="0.8"/>
<line x1="290.85" y1="590.60" x2="296.55" y2="590.60" stroke="#111" stroke-width="0.8"/>
<circle cx="293.70" cy="578.48" r="1.15" fill="#111"/>
<circle cx="292.70" cy="584.94" r="1.15" fill="#111"/>
<circle cx="294.70" cy="588.98" r="1.15" fill="#111"/>
<circle cx="293.70" cy="590.19" r="1.15" fill="#111"/>
<line x1="306.30" y1="558.97" x2="306.30" y2="571.89" stroke="#111" stroke-width="0.8"/>
<line x1="303.45" y1="558.97" x2="309.15" y2="558.97" stroke="#111" stroke-width="0.8"/>
<line x1="303.45" y1="571.89" x2="309.15" y2="571.89" stroke="#111" stroke-width="0.8"/>
<circle cx="306.30" cy="543.89" r="1.15" fill="#111"/>
<circle cx="304.30" cy="569.46" r="1.15" fill="#111"/>
<circle cx="308.30" cy="569.46" r="1.15" fill="#111"/>
<circle cx="306.30" cy="572.16" r="1.15" fill="#111"/>
<circle cx="306.30" cy="582.92" r="1.15" fill="#111"/>
<line x1="259.80" y1="522.70" x2="259.80" y2="591.45" stroke="#222" stroke-width="0.9"/>
<line x1="259.35" y1="591.00" x2="319.20" y2="591.00" stroke="#222" stroke-width="0.9"/>
<line x1="257.20" y1="591.00" x2="259.80" y2="591.00" stroke="#222" stroke-width="0.8"/>
<text x="253.60" y="593.23" font-size="6.2" text-anchor="end" fill="#333" color="#333">0</text>
<line x1="257.20" y1="577.54" x2="259.80" y2="577.54" stroke="#222" stroke-width="0.8"/>
<text x="253.60" y="579.77" font-size="6.2" text-anchor="end" fill="#333" color="#333">10</text>
<line x1="257.20" y1="564.08" x2="259.80" y2="564.08" stroke="#222" stroke-width="0.8"/>
<text x="253.60" y="566.31" font-size="6.2" text-anchor="end" fill="#333" color="#333">20</text>
<line x1="257.20" y1="550.62" x2="259.80" y2="550.62" stroke="#222" stroke-width="0.8"/>
<text x="253.60" y="552.85" font-size="6.2" text-anchor="end" fill="#333" color="#333">30</text>
<line x1="257.20" y1="537.16" x2="259.80" y2="537.16" stroke="#222" stroke-width="0.8"/>
<text x="253.60" y="539.39" font-size="6.2" text-anchor="end" fill="#333" color="#333">40</text>
<line x1="257.20" y1="523.70" x2="259.80" y2="523.70" stroke="#222" stroke-width="0.8"/>
<text x="253.60" y="525.93" font-size="6.2" text-anchor="end" fill="#333" color="#333">50</text>
<line x1="267.80" y1="591.00" x2="267.80" y2="593.20" stroke="#222" stroke-width="0.8"/>
<line x1="280.80" y1="591.00" x2="280.80" y2="593.20" stroke="#222" stroke-width="0.8"/>
<line x1="293.70" y1="591.00" x2="293.70" y2="593.20" stroke="#222" stroke-width="0.8"/>
<line x1="306.30" y1="591.00" x2="306.30" y2="593.20" stroke="#222" stroke-width="0.8"/>
<text x="240.80" y="556.40" font-size="5.0" text-anchor="middle" fill="#333" color="#333" transform="rotate(-90 240.80 556.40)">TSP1 (fold change)</text>
<text x="271.80" y="603.00" font-size="6.35" text-anchor="end" fill="#333" color="#333" transform="rotate(-45 271.80 603.00)">Rest ERp5<tspan font-size="3.4" dy="-3.2">fl/fl</tspan></text>
<text x="284.80" y="603.00" font-size="6.35" text-anchor="end" fill="#333" color="#333" transform="rotate(-45 284.80 603.00)">IIx ERp5<tspan font-size="3.4" dy="-3.2">fl/fl</tspan></text>
<text x="297.70" y="603.00" font-size="6.35" text-anchor="end" fill="#333" color="#333" transform="rotate(-45 297.70 603.00)">Rest Pf4Cre+/ERp5<tspan font-size="3.4" dy="-3.2">fl/fl</tspan></text>
<text x="310.30" y="603.00" font-size="6.35" text-anchor="end" fill="#333" color="#333" transform="rotate(-45 310.30 603.00)">IIx Pf4Cre+/ERp5<tspan font-size="3.4" dy="-3.2">fl/fl</tspan></text>
<polyline points="267.80,587.50 267.80,536.30 306.30,536.30 306.30,539.50" fill="none" stroke="#3a3a3a" stroke-width="0.95"/>
<text x="287.05" y="536.00" font-size="6.2" text-anchor="middle" fill="#333" color="#333">**</text>
<rect x="357.10" y="582.34" width="8.80" height="8.76" fill="#e6e6ea"/>
<rect x="370.30" y="554.17" width="8.80" height="36.93" fill="#a3a4b3"/>
<rect x="383.60" y="584.63" width="8.80" height="6.47" fill="#f3b8ae"/>
<rect x="397.10" y="561.16" width="8.80" height="29.94" fill="#c8102e"/>
<line x1="361.50" y1="580.56" x2="361.50" y2="584.11" stroke="#111" stroke-width="0.8"/>
<line x1="358.90" y1="580.56" x2="364.10" y2="580.56" stroke="#111" stroke-width="0.8"/>
<line x1="358.90" y1="584.11" x2="364.10" y2="584.11" stroke="#111" stroke-width="0.8"/>
<circle cx="361.50" cy="575.24" r="1.15" fill="#111"/>
<circle cx="358.00" cy="582.54" r="1.15" fill="#111"/>
<circle cx="365.00" cy="581.71" r="1.15" fill="#111"/>
<line x1="374.70" y1="546.86" x2="374.70" y2="561.47" stroke="#111" stroke-width="0.8"/>
<line x1="372.10" y1="546.86" x2="377.30" y2="546.86" stroke="#111" stroke-width="0.8"/>
<line x1="372.10" y1="561.47" x2="377.30" y2="561.47" stroke="#111" stroke-width="0.8"/>
<circle cx="374.70" cy="535.28" r="1.15" fill="#111"/>
<circle cx="374.70" cy="551.45" r="1.15" fill="#111"/>
<circle cx="371.70" cy="564.50" r="1.15" fill="#111"/>
<circle cx="377.70" cy="563.66" r="1.15" fill="#111"/>
<line x1="388.00" y1="581.92" x2="388.00" y2="587.34" stroke="#111" stroke-width="0.8"/>
<line x1="385.40" y1="581.92" x2="390.60" y2="581.92" stroke="#111" stroke-width="0.8"/>
<line x1="385.40" y1="587.34" x2="390.60" y2="587.34" stroke="#111" stroke-width="0.8"/>
<circle cx="388.00" cy="578.79" r="1.15" fill="#111"/>
<circle cx="385.50" cy="585.99" r="1.15" fill="#111"/>
<circle cx="390.50" cy="585.99" r="1.15" fill="#111"/>
<line x1="401.50" y1="556.46" x2="401.50" y2="565.85" stroke="#111" stroke-width="0.8"/>
<line x1="398.90" y1="556.46" x2="404.10" y2="556.46" stroke="#111" stroke-width="0.8"/>
<line x1="398.90" y1="565.85" x2="404.10" y2="565.85" stroke="#111" stroke-width="0.8"/>
<circle cx="401.50" cy="548.32" r="1.15" fill="#111"/>
<circle cx="400.00" cy="563.14" r="1.15" fill="#111"/>
<circle cx="403.00" cy="563.97" r="1.15" fill="#111"/>
<circle cx="401.50" cy="567.73" r="1.15" fill="#111"/>
<line x1="351.50" y1="527.50" x2="351.50" y2="591.55" stroke="#222" stroke-width="0.9"/>
<line x1="351.05" y1="591.10" x2="410.70" y2="591.10" stroke="#222" stroke-width="0.9"/>
<line x1="348.90" y1="591.10" x2="351.50" y2="591.10" stroke="#222" stroke-width="0.8"/>
<text x="345.30" y="593.44" font-size="6.5" text-anchor="end" fill="#333" color="#333">0</text>
<line x1="348.90" y1="570.23" x2="351.50" y2="570.23" stroke="#222" stroke-width="0.8"/>
<text x="345.30" y="572.57" font-size="6.5" text-anchor="end" fill="#333" color="#333">20</text>
<line x1="348.90" y1="549.37" x2="351.50" y2="549.37" stroke="#222" stroke-width="0.8"/>
<text x="345.30" y="551.71" font-size="6.5" text-anchor="end" fill="#333" color="#333">40</text>
<line x1="348.90" y1="528.50" x2="351.50" y2="528.50" stroke="#222" stroke-width="0.8"/>
<text x="345.30" y="530.84" font-size="6.5" text-anchor="end" fill="#333" color="#333">60</text>
<line x1="361.50" y1="591.10" x2="361.50" y2="593.30" stroke="#222" stroke-width="0.8"/>
<line x1="374.70" y1="591.10" x2="374.70" y2="593.30" stroke="#222" stroke-width="0.8"/>
<line x1="388.00" y1="591.10" x2="388.00" y2="593.30" stroke="#222" stroke-width="0.8"/>
<line x1="401.50" y1="591.10" x2="401.50" y2="593.30" stroke="#222" stroke-width="0.8"/>
<text x="333.44" y="559.00" font-size="5.4" text-anchor="middle" fill="#333" color="#333" transform="rotate(-90 333.44 559.00)">vWF (ng/ml)</text>
<text x="365.50" y="601.90" font-size="6.6" text-anchor="end" fill="#333" color="#333" transform="rotate(-45 365.50 601.90)">Rest ERp5<tspan font-size="3.4" dy="-3.2">fl/fl</tspan></text>
<text x="378.70" y="601.90" font-size="6.6" text-anchor="end" fill="#333" color="#333" transform="rotate(-45 378.70 601.90)">IIx ERp5<tspan font-size="3.4" dy="-3.2">fl/fl</tspan></text>
<text x="392.00" y="601.90" font-size="6.6" text-anchor="end" fill="#333" color="#333" transform="rotate(-45 392.00 601.90)">Rest Pf4Cre+/ERp5<tspan font-size="3.4" dy="-3.2">fl/fl</tspan></text>
<text x="405.50" y="601.90" font-size="6.6" text-anchor="end" fill="#333" color="#333" transform="rotate(-45 405.50 601.90)">IIx Pf4Cre+/ERp5<tspan font-size="3.4" dy="-3.2">fl/fl</tspan></text>
<polyline points="374.40,531.50 374.40,527.40 388.30,527.40 388.30,575.40" fill="none" stroke="#3a3a3a" stroke-width="0.95"/>
<text x="381.35" y="527.10" font-size="6.2" text-anchor="middle" fill="#333" color="#333">**</text>
<rect x="452.30" y="588.52" width="11.00" height="2.28" fill="#e6e6ea"/>
<rect x="469.00" y="564.26" width="11.00" height="26.54" fill="#a3a4b3"/>
<rect x="486.20" y="589.56" width="11.00" height="1.24" fill="#f6d6d0"/>
<rect x="502.80" y="567.99" width="11.00" height="22.81" fill="#c8102e"/>
<line x1="457.80" y1="587.28" x2="457.80" y2="589.76" stroke="#111" stroke-width="0.8"/>
<line x1="454.60" y1="587.28" x2="461.00" y2="587.28" stroke="#111" stroke-width="0.8"/>
<line x1="454.60" y1="589.76" x2="461.00" y2="589.76" stroke="#111" stroke-width="0.8"/>
<circle cx="457.80" cy="584.58" r="1.15" fill="#111"/>
<circle cx="454.80" cy="587.69" r="1.15" fill="#111"/>
<circle cx="460.80" cy="588.31" r="1.15" fill="#111"/>
<circle cx="456.80" cy="589.56" r="1.15" fill="#111"/>
<circle cx="458.80" cy="590.39" r="1.15" fill="#111"/>
<line x1="474.50" y1="557.00" x2="474.50" y2="571.52" stroke="#111" stroke-width="0.8"/>
<line x1="471.30" y1="557.00" x2="477.70" y2="557.00" stroke="#111" stroke-width="0.8"/>
<line x1="471.30" y1="571.52" x2="477.70" y2="571.52" stroke="#111" stroke-width="0.8"/>
<circle cx="474.50" cy="536.89" r="1.15" fill="#111"/>
<circle cx="474.50" cy="551.41" r="1.15" fill="#111"/>
<circle cx="472.50" cy="567.99" r="1.15" fill="#111"/>
<circle cx="476.50" cy="570.07" r="1.15" fill="#111"/>
<circle cx="474.50" cy="578.36" r="1.15" fill="#111"/>
<line x1="491.70" y1="588.93" x2="491.70" y2="590.18" stroke="#111" stroke-width="0.8"/>
<line x1="488.50" y1="588.93" x2="494.90" y2="588.93" stroke="#111" stroke-width="0.8"/>
<line x1="488.50" y1="590.18" x2="494.90" y2="590.18" stroke="#111" stroke-width="0.8"/>
<circle cx="491.70" cy="584.99" r="1.15" fill="#111"/>
<circle cx="488.70" cy="589.14" r="1.15" fill="#111"/>
<circle cx="494.70" cy="589.56" r="1.15" fill="#111"/>
<circle cx="490.70" cy="590.18" r="1.15" fill="#111"/>
<circle cx="492.70" cy="590.59" r="1.15" fill="#111"/>
<line x1="508.30" y1="561.36" x2="508.30" y2="574.63" stroke="#111" stroke-width="0.8"/>
<line x1="505.10" y1="561.36" x2="511.50" y2="561.36" stroke="#111" stroke-width="0.8"/>
<line x1="505.10" y1="574.63" x2="511.50" y2="574.63" stroke="#111" stroke-width="0.8"/>
<circle cx="508.30" cy="546.22" r="1.15" fill="#111"/>
<circle cx="508.30" cy="550.37" r="1.15" fill="#111"/>
<circle cx="506.30" cy="563.85" r="1.15" fill="#111"/>
<circle cx="510.30" cy="570.07" r="1.15" fill="#111"/>
<circle cx="508.30" cy="584.58" r="1.15" fill="#111"/>
<line x1="446.20" y1="527.60" x2="446.20" y2="591.25" stroke="#222" stroke-width="0.9"/>
<line x1="445.75" y1="590.80" x2="519.60" y2="590.80" stroke="#222" stroke-width="0.9"/>
<line x1="443.60" y1="590.80" x2="446.20" y2="590.80" stroke="#222" stroke-width="0.8"/>
<text x="440.00" y="593.14" font-size="6.5" text-anchor="end" fill="#333" color="#333">0</text>
<line x1="443.60" y1="570.07" x2="446.20" y2="570.07" stroke="#222" stroke-width="0.8"/>
<text x="440.00" y="572.41" font-size="6.5" text-anchor="end" fill="#333" color="#333">1000</text>
<line x1="443.60" y1="549.33" x2="446.20" y2="549.33" stroke="#222" stroke-width="0.8"/>
<text x="440.00" y="551.67" font-size="6.5" text-anchor="end" fill="#333" color="#333">2000</text>
<line x1="443.60" y1="528.60" x2="446.20" y2="528.60" stroke="#222" stroke-width="0.8"/>
<text x="440.00" y="530.94" font-size="6.5" text-anchor="end" fill="#333" color="#333">3000</text>
<line x1="457.80" y1="590.80" x2="457.80" y2="593.00" stroke="#222" stroke-width="0.8"/>
<line x1="474.50" y1="590.80" x2="474.50" y2="593.00" stroke="#222" stroke-width="0.8"/>
<line x1="491.70" y1="590.80" x2="491.70" y2="593.00" stroke="#222" stroke-width="0.8"/>
<line x1="508.30" y1="590.80" x2="508.30" y2="593.00" stroke="#222" stroke-width="0.8"/>
<text x="419.71" y="559.00" font-size="5.3" text-anchor="middle" fill="#333" color="#333" transform="rotate(-90 419.71 559.00)">Serotonin (ng/ml)</text>
<text x="461.80" y="601.60" font-size="6.6" text-anchor="end" fill="#333" color="#333" transform="rotate(-45 461.80 601.60)">Rest ERp5<tspan font-size="3.4" dy="-3.2">fl/fl</tspan></text>
<text x="478.50" y="601.60" font-size="6.6" text-anchor="end" fill="#333" color="#333" transform="rotate(-45 478.50 601.60)">IIx ERp5<tspan font-size="3.4" dy="-3.2">fl/fl</tspan></text>
<text x="495.70" y="601.60" font-size="6.6" text-anchor="end" fill="#333" color="#333" transform="rotate(-45 495.70 601.60)">Rest Pf4Cre+/ERp5<tspan font-size="3.4" dy="-3.2">fl/fl</tspan></text>
<text x="512.30" y="601.60" font-size="6.6" text-anchor="end" fill="#333" color="#333" transform="rotate(-45 512.30 601.60)">IIx Pf4Cre+/ERp5<tspan font-size="3.4" dy="-3.2">fl/fl</tspan></text>
<polyline points="457.60,583.50 457.60,528.90 474.40,528.90 474.40,533.50" fill="none" stroke="#3a3a3a" stroke-width="0.95"/>
<text x="466.00" y="528.60" font-size="6.2" text-anchor="middle" fill="#333" color="#333">*</text>
<polyline points="491.30,584.40 491.30,528.90 508.10,528.90 508.10,542.00" fill="none" stroke="#3a3a3a" stroke-width="0.95"/>
<text x="499.70" y="528.60" font-size="6.2" text-anchor="middle" fill="#333" color="#333">*</text>
<text x="100.20" y="191.71" font-size="6.3" fill="#333" color="#333">Aplp2</text>
<text x="66.00" y="198.11" font-size="6.3" fill="#333" color="#333">Ankrd13a</text>
<text x="115.70" y="202.61" font-size="6.3" fill="#333" color="#333">Rsp14</text>
<text x="63.00" y="209.51" font-size="6.3" fill="#333" color="#333">Stk10</text>
<text x="126.60" y="213.41" font-size="6.3" fill="#333" color="#333">Anh1</text>
<text x="42.90" y="220.71" font-size="6.3" fill="#333" color="#333">Rsp16</text>
<text x="34.90" y="234.21" font-size="6.3" fill="#333" color="#333">Dock1</text>
<text x="64.50" y="236.01" font-size="6.3" fill="#333" color="#333">Slc25a11</text>
<text x="42.90" y="251.91" font-size="6.3" fill="#333" color="#333">Vti1b</text>
<text x="239.90" y="163.31" font-size="6.3" fill="#333" color="#333">Smtn</text>
<text x="234.70" y="174.91" font-size="6.3" fill="#333" color="#333">Vapb</text>
<text x="200.60" y="173.61" font-size="6.3" fill="#333" color="#333">Hyou1</text>
<text x="189.70" y="181.41" font-size="6.3" fill="#333" color="#333">Pdia4</text>
<text x="246.30" y="186.31" font-size="6.3" fill="#333" color="#333">Eif3b</text>
<text x="195.80" y="193.21" font-size="6.3" fill="#333" color="#333">Srm</text>
<text x="241.60" y="197.41" font-size="6.3" fill="#333" color="#333">Psmc2</text>
<text x="178.50" y="203.61" font-size="6.3" fill="#333" color="#333">Tmed3</text>
<text x="243.90" y="203.91" font-size="6.3" fill="#333" color="#333">Cul1</text>
<text x="181.90" y="213.41" font-size="6.3" fill="#333" color="#333">Cdv3</text>
<line x1="108.00" y1="193.80" x2="108.00" y2="199.80" stroke="#8c8f8f" stroke-width="1.0"/>
<polyline points="109.82,196.47 108.00,199.80 106.18,196.47" fill="none" stroke="#8c8f8f" stroke-width="1.3" stroke-linejoin="miter"/>
<line x1="96.30" y1="197.10" x2="101.00" y2="203.20" stroke="#8c8f8f" stroke-width="1.0"/>
<polyline points="100.41,199.45 101.00,203.20 97.52,201.67" fill="none" stroke="#8c8f8f" stroke-width="1.3" stroke-linejoin="miter"/>
<line x1="126.20" y1="210.60" x2="119.80" y2="210.00" stroke="#8c8f8f" stroke-width="1.0"/>
<polyline points="122.95,212.13 119.80,210.00 123.29,208.50" fill="none" stroke="#8c8f8f" stroke-width="1.3" stroke-linejoin="miter"/>
<line x1="81.40" y1="207.20" x2="87.40" y2="213.30" stroke="#8c8f8f" stroke-width="1.0"/>
<polyline points="86.36,209.64 87.40,213.30 83.76,212.20" fill="none" stroke="#8c8f8f" stroke-width="1.3" stroke-linejoin="miter"/>
<line x1="86.40" y1="230.40" x2="86.20" y2="224.80" stroke="#8c8f8f" stroke-width="1.0"/>
<polyline points="84.50,228.20 86.20,224.80 88.14,228.07" fill="none" stroke="#8c8f8f" stroke-width="1.3" stroke-linejoin="miter"/>
<line x1="198.50" y1="203.50" x2="214.50" y2="191.50" stroke="#8c8f8f" stroke-width="1.0"/>
<polyline points="210.74,192.04 214.50,191.50 212.93,194.96" fill="none" stroke="#8c8f8f" stroke-width="1.3" stroke-linejoin="miter"/>
<line x1="199.50" y1="209.50" x2="216.00" y2="194.50" stroke="#8c8f8f" stroke-width="1.0"/>
<polyline points="212.31,195.40 216.00,194.50 214.76,198.09" fill="none" stroke="#8c8f8f" stroke-width="1.3" stroke-linejoin="miter"/>
</svg></body></html>
